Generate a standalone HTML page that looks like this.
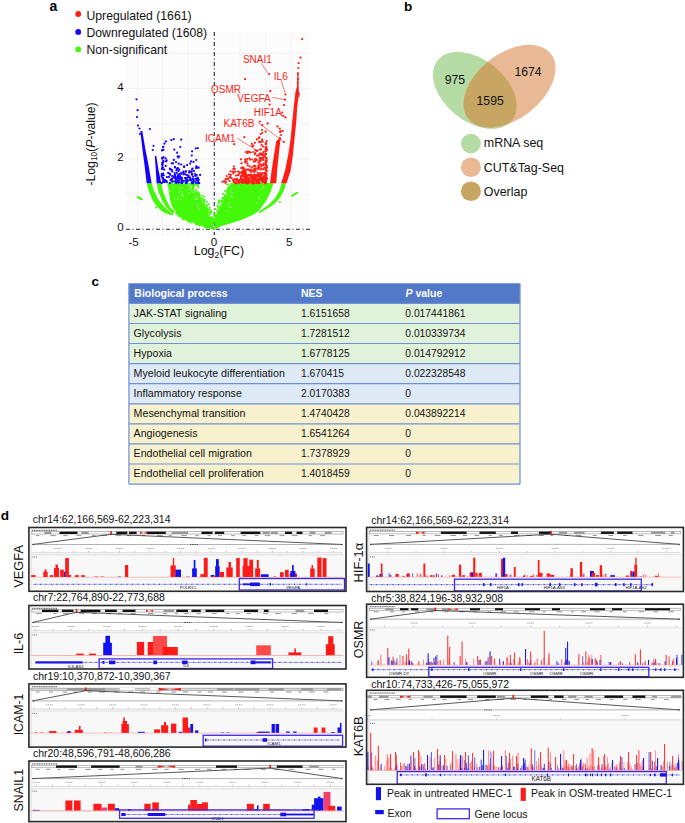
<!DOCTYPE html>
<html><head><meta charset="utf-8"><style>
html,body{margin:0;padding:0;background:#fff;width:685px;height:823px;overflow:hidden}
svg{display:block;font-family:"Liberation Sans",sans-serif}
</style></head><body>
<svg width="685" height="823" viewBox="0 0 685 823">
<rect x="125" y="32" width="185" height="204" fill="#fcfcfd"/>
<path d="M137.5 32V236M162.5 32V236M188 32V236M240 32V236M265.5 32V236M291 32V236M125 53.5H310M125 88.4H310M125 124H310M125 158.7H310M125 194H310" stroke="#f1f1f4" stroke-width="0.8" fill="none"/>
<path d="M214.3 32V235" stroke="#222" stroke-width="1.1" stroke-dasharray="4 2.5 1 2.5" fill="none"/>
<path d="M126 229.2H310" stroke="#222" stroke-width="1.1" stroke-dasharray="4 2.5 1 2.5" fill="none"/>
<path d="M146.7 183.3 L149 191.7 L152.5 199.9 L157.2 206.9 L163 212.1 L168.9 214.5 L173 215.2 L173 214 L170 212.1 L164.4 206.9 L158.6 199.9 L154.5 191.7 L151.6 183.3 Z" fill="#44f80a"/>
<path d="M156.6 183.3 L158.4 191.7 L161.9 199.9 L166 206.9 L171.2 212.5 L174 213.5 L174 211 L170 206.9 L166.5 199.9 L163 191.7 L161.3 183.3 Z" fill="#44f80a"/>
<path d="M167.7 183.3 L168.9 191.7 L170 199.9 L172.4 206.9 L175.9 212.5 L181.7 218.5 L189.9 221.5 L199.2 224.4 L207.4 227.3 L214.3 229.6 L212.6 223.8 L209 215 L204.6 205.5 L199.5 196.8 L195.5 189 L193.5 183.3 Z" fill="#44f80a"/>
<path d="M214.3 229.6 L221.7 226.1 L233.4 222.6 L245 218.5 L254.4 213.9 L259 210.5 L266 201 L270.7 191.7 L273.4 183.3 L231.5 183.3 L226.5 194.6 L222.8 201.9 L219.2 209.2 L216.3 216.5 L214.8 222.3 Z" fill="#44f80a"/>
<path d="M285.9 183.3 L284.4 189.3 L280.2 197.5 L275 203.5 L270.7 206.5 L265 210 L259 213.6 L259 211.6 L262 209.6 L268.4 205 L275.4 197.7 L280 189.3 L281.4 183.3 Z" fill="#44f80a"/>
<path d="M137.6 197L141.8 199.3M292 195.8L297 192.8" stroke="#44f80a" stroke-width="2" stroke-linecap="round"/>
<g fill="#44f80a"><circle cx="156" cy="207.4" r="1.0"/><circle cx="279.9" cy="201.9" r="1.0"/><circle cx="199.3" cy="193.5" r="1.0"/><circle cx="202.5" cy="198.8" r="1.0"/><circle cx="206.3" cy="209" r="1.0"/><circle cx="197.4" cy="184.5" r="1.0"/><circle cx="198.5" cy="194.4" r="1.0"/><circle cx="212.9" cy="223.8" r="1.0"/><circle cx="210.6" cy="217.5" r="1.0"/><circle cx="206.6" cy="209.6" r="1.0"/><circle cx="209.9" cy="209.4" r="1.0"/><circle cx="207" cy="204.9" r="1.0"/><circle cx="207.1" cy="210.9" r="1.0"/><circle cx="209.9" cy="214.3" r="1.0"/><circle cx="199.1" cy="196.1" r="1.0"/><circle cx="211" cy="218.6" r="1.0"/><circle cx="211" cy="212.8" r="1.0"/><circle cx="211.2" cy="212.6" r="1.0"/><circle cx="204.5" cy="199.8" r="1.0"/><circle cx="206.8" cy="201.8" r="1.0"/><circle cx="210.7" cy="219.2" r="1.0"/><circle cx="196" cy="189.4" r="1.0"/><circle cx="212.4" cy="222.6" r="1.0"/><circle cx="206.7" cy="209.1" r="1.0"/><circle cx="204.6" cy="204.3" r="1.0"/><circle cx="201.9" cy="198" r="1.0"/><circle cx="209.6" cy="207.4" r="1.0"/><circle cx="210.9" cy="211.3" r="1.0"/><circle cx="212.9" cy="218.3" r="1.0"/><circle cx="207.2" cy="210.9" r="1.0"/><circle cx="212.8" cy="218.4" r="1.0"/><circle cx="211.8" cy="220.2" r="1.0"/><circle cx="208" cy="212.6" r="1.0"/><circle cx="210.9" cy="217.3" r="1.0"/><circle cx="198.8" cy="195.4" r="1.0"/><circle cx="212.8" cy="218.2" r="1.0"/><circle cx="198.2" cy="187.5" r="1.0"/><circle cx="201.7" cy="200.4" r="1.0"/><circle cx="201.9" cy="195.8" r="1.0"/><circle cx="210.6" cy="218.9" r="1.0"/><circle cx="206" cy="208.6" r="1.0"/><circle cx="208.4" cy="212.7" r="1.0"/><circle cx="213" cy="219.2" r="1.0"/><circle cx="208.8" cy="204.2" r="1.0"/><circle cx="199.3" cy="196.4" r="1.0"/><circle cx="205.8" cy="208" r="1.0"/><circle cx="197.8" cy="191.9" r="1.0"/><circle cx="206.1" cy="208.4" r="1.0"/><circle cx="198.1" cy="185.7" r="1.0"/><circle cx="204" cy="196.6" r="1.0"/><circle cx="211.3" cy="219.9" r="1.0"/><circle cx="204.1" cy="202.4" r="1.0"/><circle cx="208.2" cy="209.8" r="1.0"/><circle cx="206.9" cy="206.4" r="1.0"/><circle cx="212.2" cy="221.6" r="1.0"/><circle cx="204.7" cy="201.2" r="1.0"/><circle cx="198.3" cy="193.5" r="1.0"/><circle cx="212.7" cy="223.1" r="1.0"/><circle cx="204.8" cy="205.9" r="1.0"/><circle cx="203.4" cy="200.6" r="1.0"/><circle cx="195.9" cy="184.8" r="1.0"/><circle cx="206.4" cy="209.3" r="1.0"/><circle cx="207.3" cy="209.1" r="1.0"/><circle cx="207.8" cy="211.2" r="1.0"/><circle cx="209.9" cy="212.3" r="1.0"/><circle cx="194.1" cy="184.9" r="1.0"/><circle cx="211.2" cy="211" r="1.0"/><circle cx="199.1" cy="194" r="1.0"/><circle cx="206.1" cy="207.7" r="1.0"/><circle cx="201" cy="198.6" r="1.0"/><circle cx="202.4" cy="198.8" r="1.0"/><circle cx="199.8" cy="196" r="1.0"/><circle cx="216.9" cy="214.9" r="1.0"/><circle cx="217.7" cy="206.8" r="1.0"/><circle cx="225.3" cy="196.4" r="1.0"/><circle cx="216.3" cy="216.2" r="1.0"/><circle cx="226.9" cy="191.5" r="1.0"/><circle cx="218.1" cy="211.9" r="1.0"/><circle cx="224.8" cy="196.9" r="1.0"/><circle cx="215.5" cy="217.3" r="1.0"/><circle cx="215.8" cy="218.2" r="1.0"/><circle cx="222.9" cy="197.5" r="1.0"/><circle cx="215.1" cy="219.4" r="1.0"/><circle cx="227.1" cy="193" r="1.0"/><circle cx="221" cy="205.2" r="1.0"/><circle cx="214.2" cy="216.3" r="1.0"/><circle cx="227.6" cy="191.3" r="1.0"/><circle cx="215.1" cy="216.3" r="1.0"/><circle cx="216" cy="216.3" r="1.0"/><circle cx="228.5" cy="189.2" r="1.0"/><circle cx="216.4" cy="215.8" r="1.0"/><circle cx="224" cy="197.9" r="1.0"/><circle cx="222.5" cy="200.8" r="1.0"/><circle cx="215.1" cy="220.8" r="1.0"/><circle cx="226.7" cy="184.2" r="1.0"/><circle cx="213.3" cy="219.2" r="1.0"/><circle cx="218.6" cy="201.4" r="1.0"/><circle cx="215" cy="221.1" r="1.0"/><circle cx="214.8" cy="213.8" r="1.0"/><circle cx="217.5" cy="210.5" r="1.0"/><circle cx="225.4" cy="195.6" r="1.0"/><circle cx="227.1" cy="193.1" r="1.0"/><circle cx="219.6" cy="207.5" r="1.0"/><circle cx="216.3" cy="216.4" r="1.0"/><circle cx="214.3" cy="220.1" r="1.0"/><circle cx="213.6" cy="221" r="1.0"/><circle cx="214.7" cy="220" r="1.0"/><circle cx="228.2" cy="184.5" r="1.0"/><circle cx="227.7" cy="190.9" r="1.0"/><circle cx="217.5" cy="210.5" r="1.0"/><circle cx="219.1" cy="200.6" r="1.0"/><circle cx="219" cy="208.5" r="1.0"/><circle cx="223" cy="194.1" r="1.0"/><circle cx="219.2" cy="203.1" r="1.0"/><circle cx="224.5" cy="198.1" r="1.0"/><circle cx="217.7" cy="205.4" r="1.0"/><circle cx="225" cy="190.9" r="1.0"/><circle cx="213.9" cy="220.9" r="1.0"/><circle cx="216.2" cy="216.9" r="1.0"/><circle cx="215.7" cy="209.1" r="1.0"/><circle cx="229.9" cy="186" r="1.0"/><circle cx="225" cy="194.7" r="1.0"/><circle cx="222.2" cy="200.9" r="1.0"/><circle cx="216.9" cy="215.1" r="1.0"/><circle cx="230.1" cy="186.2" r="1.0"/><circle cx="229" cy="189" r="1.0"/><circle cx="213.7" cy="223" r="1.0"/><circle cx="228.4" cy="187.4" r="1.0"/><circle cx="225" cy="196.6" r="1.0"/><circle cx="222.7" cy="198.1" r="1.0"/><circle cx="219.4" cy="207.5" r="1.0"/><circle cx="227.3" cy="191.6" r="1.0"/><circle cx="227.5" cy="189" r="1.0"/><circle cx="217.3" cy="212.6" r="1.0"/><circle cx="229.6" cy="187.2" r="1.0"/><circle cx="222.5" cy="198.9" r="1.0"/><circle cx="216.3" cy="215.3" r="1.0"/><circle cx="215.3" cy="216" r="1.0"/><circle cx="222.4" cy="201.3" r="1.0"/><circle cx="219.4" cy="203.8" r="1.0"/><circle cx="220.9" cy="200.8" r="1.0"/><circle cx="222.2" cy="202.4" r="1.0"/><circle cx="184.1" cy="184.3" r="1.0"/><circle cx="170.1" cy="183.9" r="1.0"/><circle cx="180.8" cy="184.6" r="1.0"/><circle cx="196.1" cy="183.9" r="1.0"/><circle cx="194.9" cy="184.5" r="1.0"/><circle cx="175.9" cy="184" r="1.0"/><circle cx="171.7" cy="184.5" r="1.0"/><circle cx="187.9" cy="184.6" r="1.0"/><circle cx="191.8" cy="184.3" r="1.0"/><circle cx="190" cy="184.1" r="1.0"/><circle cx="171.1" cy="184.2" r="1.0"/><circle cx="168.1" cy="183.5" r="1.0"/><circle cx="191.2" cy="183.4" r="1.0"/><circle cx="170.8" cy="183.4" r="1.0"/><circle cx="194.4" cy="183.6" r="1.0"/><circle cx="168.7" cy="184.6" r="1.0"/><circle cx="171.6" cy="184.6" r="1.0"/><circle cx="188.2" cy="184.6" r="1.0"/><circle cx="196.6" cy="184.2" r="1.0"/><circle cx="192" cy="183.4" r="1.0"/><circle cx="191" cy="184.1" r="1.0"/><circle cx="189.5" cy="183.5" r="1.0"/><circle cx="190.5" cy="184.7" r="1.0"/><circle cx="169.8" cy="183.8" r="1.0"/><circle cx="184.9" cy="184.5" r="1.0"/><circle cx="175.3" cy="183.6" r="1.0"/><circle cx="175.5" cy="184.2" r="1.0"/><circle cx="190.6" cy="183.9" r="1.0"/><circle cx="179" cy="183.9" r="1.0"/><circle cx="178.5" cy="183.9" r="1.0"/><circle cx="170.5" cy="184.1" r="1.0"/><circle cx="197.2" cy="183.9" r="1.0"/><circle cx="190.4" cy="183.5" r="1.0"/><circle cx="188.7" cy="184.4" r="1.0"/><circle cx="188.2" cy="184.1" r="1.0"/><circle cx="182.5" cy="184.3" r="1.0"/><circle cx="194.9" cy="183.5" r="1.0"/><circle cx="170.9" cy="184.4" r="1.0"/><circle cx="195.5" cy="184.1" r="1.0"/><circle cx="181.3" cy="184.4" r="1.0"/><circle cx="238.8" cy="183.7" r="1.0"/><circle cx="239.4" cy="184.2" r="1.0"/><circle cx="244.2" cy="183.6" r="1.0"/><circle cx="260" cy="184.7" r="1.0"/><circle cx="243.4" cy="184.4" r="1.0"/><circle cx="248.4" cy="184.6" r="1.0"/><circle cx="255.6" cy="183.7" r="1.0"/><circle cx="240.1" cy="183.3" r="1.0"/><circle cx="251.1" cy="183.9" r="1.0"/><circle cx="238.2" cy="183.8" r="1.0"/><circle cx="244.5" cy="184.5" r="1.0"/><circle cx="237" cy="184.8" r="1.0"/><circle cx="251.1" cy="184.2" r="1.0"/><circle cx="250.7" cy="184.6" r="1.0"/><circle cx="265.5" cy="184.1" r="1.0"/><circle cx="251.2" cy="184.4" r="1.0"/><circle cx="267" cy="183.9" r="1.0"/><circle cx="261.8" cy="184.7" r="1.0"/><circle cx="250.6" cy="183.6" r="1.0"/><circle cx="240.9" cy="184.4" r="1.0"/><circle cx="259.4" cy="184.7" r="1.0"/><circle cx="266.9" cy="183.7" r="1.0"/><circle cx="239" cy="183.7" r="1.0"/><circle cx="238.9" cy="184.4" r="1.0"/><circle cx="267.1" cy="184.6" r="1.0"/><circle cx="241.7" cy="184.6" r="1.0"/><circle cx="244.2" cy="183.9" r="1.0"/><circle cx="261.6" cy="183.4" r="1.0"/><circle cx="234.9" cy="184.6" r="1.0"/><circle cx="243.3" cy="183.8" r="1.0"/><circle cx="255.4" cy="184.3" r="1.0"/><circle cx="231.3" cy="183.8" r="1.0"/><circle cx="249.3" cy="184" r="1.0"/><circle cx="239.8" cy="184.2" r="1.0"/><circle cx="271.1" cy="183.9" r="1.0"/><circle cx="253.9" cy="183.5" r="1.0"/><circle cx="242.5" cy="184.3" r="1.0"/><circle cx="235.7" cy="184.6" r="1.0"/><circle cx="269.2" cy="183.4" r="1.0"/><circle cx="270.5" cy="183.9" r="1.0"/><circle cx="263.4" cy="184.4" r="1.0"/><circle cx="243.4" cy="184.3" r="1.0"/><circle cx="258.5" cy="184.5" r="1.0"/><circle cx="242.2" cy="184.4" r="1.0"/><circle cx="271.4" cy="184.3" r="1.0"/><circle cx="253.5" cy="183.5" r="1.0"/><circle cx="251.7" cy="183.8" r="1.0"/><circle cx="261.2" cy="184.3" r="1.0"/><circle cx="254.8" cy="183.6" r="1.0"/><circle cx="258.1" cy="184.2" r="1.0"/><circle cx="182.6" cy="219.6" r="1.0"/><circle cx="200.2" cy="224" r="1.0"/><circle cx="210.5" cy="227.6" r="1.0"/><circle cx="188.3" cy="221.3" r="1.0"/><circle cx="198.1" cy="224.2" r="1.0"/><circle cx="200" cy="224.6" r="1.0"/><circle cx="187.6" cy="220" r="1.0"/><circle cx="178.5" cy="215.7" r="1.0"/><circle cx="203.9" cy="226.2" r="1.0"/><circle cx="203.4" cy="225.6" r="1.0"/><circle cx="185.8" cy="219.8" r="1.0"/><circle cx="208.3" cy="226.7" r="1.0"/><circle cx="194.7" cy="222.5" r="1.0"/><circle cx="204.4" cy="226" r="1.0"/><circle cx="188.3" cy="220.7" r="1.0"/><circle cx="196" cy="224" r="1.0"/><circle cx="189.1" cy="221.9" r="1.0"/><circle cx="180.1" cy="216.4" r="1.0"/><circle cx="179.7" cy="215.6" r="1.0"/><circle cx="204.8" cy="226.8" r="1.0"/><circle cx="182.8" cy="218.3" r="1.0"/><circle cx="191.4" cy="222.5" r="1.0"/><circle cx="206.2" cy="227.4" r="1.0"/><circle cx="197.9" cy="223.3" r="1.0"/><circle cx="190.7" cy="221.1" r="1.0"/><circle cx="195.5" cy="223.4" r="1.0"/><circle cx="183.5" cy="218.7" r="1.0"/><circle cx="204.9" cy="225.5" r="1.0"/><circle cx="205.7" cy="227.5" r="1.0"/><circle cx="211.1" cy="228.3" r="1.0"/><circle cx="196.4" cy="223.7" r="1.0"/><circle cx="199.4" cy="225.4" r="1.0"/><circle cx="201.4" cy="224.8" r="1.0"/><circle cx="207.8" cy="227.4" r="1.0"/><circle cx="198.3" cy="224.6" r="1.0"/><circle cx="176.1" cy="213.2" r="1.0"/><circle cx="200.5" cy="224.8" r="1.0"/><circle cx="195.4" cy="223.1" r="1.0"/><circle cx="183.2" cy="219.1" r="1.0"/><circle cx="177.4" cy="214" r="1.0"/></g>
<g fill="#ffffff"><circle cx="179" cy="192.2" r="0.55"/><circle cx="177.9" cy="199.4" r="0.55"/><circle cx="182.5" cy="187.9" r="0.55"/><circle cx="181.1" cy="194.7" r="0.55"/><circle cx="170.7" cy="191" r="0.55"/><circle cx="173.3" cy="187.1" r="0.55"/><circle cx="177.5" cy="199" r="0.55"/><circle cx="174.5" cy="198.2" r="0.55"/><circle cx="179.7" cy="187.9" r="0.55"/><circle cx="182" cy="194.4" r="0.55"/><circle cx="183" cy="196" r="0.55"/><circle cx="180.4" cy="190.8" r="0.55"/><circle cx="181.3" cy="199" r="0.55"/><circle cx="182.1" cy="192.1" r="0.55"/><circle cx="194.8" cy="188.9" r="0.55"/><circle cx="189" cy="184.4" r="0.55"/><circle cx="188.7" cy="186" r="0.55"/><circle cx="189.4" cy="189" r="0.55"/><circle cx="194.3" cy="189.4" r="0.55"/><circle cx="191.8" cy="190.5" r="0.55"/><circle cx="190.7" cy="188.6" r="0.55"/><circle cx="194.8" cy="188" r="0.55"/><circle cx="189.6" cy="193" r="0.55"/><circle cx="194.5" cy="187.7" r="0.55"/><circle cx="197.5" cy="196.8" r="0.55"/><circle cx="197.6" cy="203.3" r="0.55"/><circle cx="191.5" cy="186.1" r="0.55"/><circle cx="199" cy="208.7" r="0.55"/><circle cx="196" cy="199.3" r="0.55"/><circle cx="193.3" cy="192.1" r="0.55"/><circle cx="195.3" cy="197.7" r="0.55"/><circle cx="191" cy="186.8" r="0.55"/><circle cx="195.1" cy="190.9" r="0.55"/><circle cx="190.8" cy="187.7" r="0.55"/><circle cx="197.4" cy="199" r="0.55"/><circle cx="197.5" cy="206.4" r="0.55"/><circle cx="232" cy="196.5" r="0.55"/><circle cx="239.5" cy="186.7" r="0.55"/><circle cx="231" cy="191.7" r="0.55"/><circle cx="229.6" cy="198.3" r="0.55"/><circle cx="229.9" cy="202.2" r="0.55"/><circle cx="231.4" cy="189.2" r="0.55"/><circle cx="228.5" cy="204.9" r="0.55"/><circle cx="229.6" cy="206.5" r="0.55"/><circle cx="227.1" cy="210.3" r="0.55"/><circle cx="232.2" cy="192.5" r="0.55"/><circle cx="230.7" cy="207.2" r="0.55"/><circle cx="230.1" cy="195" r="0.55"/><circle cx="259.3" cy="199" r="0.55"/><circle cx="259" cy="197.3" r="0.55"/><circle cx="263.4" cy="186.6" r="0.55"/><circle cx="262.2" cy="189.2" r="0.55"/><circle cx="263.7" cy="187" r="0.55"/><circle cx="256.9" cy="203.1" r="0.55"/></g>
<path d="M281.1 183.3 L285 170.7 L288.2 154.9 L290.6 139 L292.1 123.2 L293.7 107.4 L295.3 93.2 L297 86 L297.3 72 L298.5 72 L298.6 86 L299 93.2 L297.2 107.4 L296.1 123.2 L294.5 139 L292.9 154.9 L290.6 170.7 L286.6 183.3 Z" fill="#ff1e14"/>
<path d="M270 183.3 L271.6 170.7 L274 154.9 L276.3 141 L280.3 141 L278.7 154.9 L277.1 170.7 L276.3 183.3 Z" fill="#ff1e14"/>
<g fill="#ff1e14"><circle cx="302.1" cy="39.1" r="1.1"/><circle cx="300.5" cy="57.7" r="1.1"/><circle cx="298.6" cy="63" r="1.1"/><circle cx="298.3" cy="68" r="1.1"/><circle cx="298" cy="74" r="1.1"/><circle cx="297.9" cy="79" r="1.1"/><circle cx="297.8" cy="83" r="1.1"/><circle cx="296.8" cy="91" r="1.1"/><circle cx="299" cy="94" r="1.1"/><circle cx="298.5" cy="96" r="1.1"/><circle cx="279" cy="141.6" r="1.1"/><circle cx="280.2" cy="139.1" r="1.1"/><circle cx="278" cy="141.1" r="1.1"/><circle cx="280.1" cy="131.6" r="1.1"/><circle cx="278.1" cy="141.2" r="1.1"/><circle cx="280.7" cy="131.4" r="1.1"/><circle cx="279.8" cy="128.7" r="1.1"/><circle cx="280.2" cy="132" r="1.1"/><circle cx="278.3" cy="140.9" r="1.1"/><circle cx="279.9" cy="138.1" r="1.1"/><circle cx="279.3" cy="139.5" r="1.1"/><circle cx="278.8" cy="140.9" r="1.1"/><circle cx="265.9" cy="157.8" r="1.1"/><circle cx="266.6" cy="173.5" r="1.1"/><circle cx="265.7" cy="151.6" r="1.1"/><circle cx="266.7" cy="171" r="1.1"/><circle cx="266.4" cy="170.6" r="1.1"/><circle cx="265.9" cy="160.9" r="1.1"/><circle cx="265.9" cy="170.6" r="1.1"/><circle cx="266.7" cy="160.1" r="1.1"/><circle cx="266" cy="169.1" r="1.1"/><circle cx="266.6" cy="150.2" r="1.1"/><circle cx="267" cy="167.6" r="1.1"/><circle cx="266.6" cy="177.5" r="1.1"/><circle cx="267" cy="178.6" r="1.1"/><circle cx="266" cy="154.3" r="1.1"/><circle cx="265.9" cy="143.1" r="1.1"/><circle cx="266.2" cy="181.1" r="1.1"/><circle cx="265.9" cy="164.5" r="1.1"/><circle cx="266.2" cy="143.5" r="1.1"/><circle cx="265.5" cy="150.3" r="1.1"/><circle cx="266.3" cy="146.6" r="1.1"/><circle cx="265.8" cy="165.2" r="1.1"/><circle cx="266.8" cy="149.9" r="1.1"/><circle cx="266.2" cy="149.5" r="1.1"/><circle cx="266.7" cy="158" r="1.1"/><circle cx="266.9" cy="166" r="1.1"/><circle cx="266" cy="163" r="1.1"/><circle cx="265.5" cy="147.6" r="1.1"/><circle cx="266.1" cy="175.5" r="1.1"/><circle cx="266.6" cy="141" r="1.1"/><circle cx="266.7" cy="148.6" r="1.1"/><circle cx="258.7" cy="167.1" r="1.1"/><circle cx="255.6" cy="150.2" r="1.1"/><circle cx="248.4" cy="174.9" r="1.1"/><circle cx="254.1" cy="182" r="1.1"/><circle cx="254.5" cy="174.6" r="1.1"/><circle cx="248.6" cy="179.9" r="1.1"/><circle cx="266.3" cy="175.6" r="1.1"/><circle cx="263.4" cy="159.8" r="1.1"/><circle cx="265.9" cy="165.5" r="1.1"/><circle cx="262.1" cy="130" r="1.1"/><circle cx="254.8" cy="161.5" r="1.1"/><circle cx="265.6" cy="144.1" r="1.1"/><circle cx="244.9" cy="172.9" r="1.1"/><circle cx="259.8" cy="177.5" r="1.1"/><circle cx="261.3" cy="154.3" r="1.1"/><circle cx="245.2" cy="173" r="1.1"/><circle cx="222.6" cy="181.8" r="1.1"/><circle cx="240.7" cy="178.3" r="1.1"/><circle cx="245.8" cy="182" r="1.1"/><circle cx="240" cy="179.7" r="1.1"/><circle cx="262.5" cy="153.6" r="1.1"/><circle cx="246.1" cy="178.8" r="1.1"/><circle cx="261.8" cy="141.3" r="1.1"/><circle cx="258" cy="167.8" r="1.1"/><circle cx="244.6" cy="180.8" r="1.1"/><circle cx="245.9" cy="176.2" r="1.1"/><circle cx="264.6" cy="180.2" r="1.1"/><circle cx="258.7" cy="138" r="1.1"/><circle cx="246" cy="174.2" r="1.1"/><circle cx="253.3" cy="145.7" r="1.1"/><circle cx="251.4" cy="176.3" r="1.1"/><circle cx="263.9" cy="176.3" r="1.1"/><circle cx="233.8" cy="181.8" r="1.1"/><circle cx="265.6" cy="181.8" r="1.1"/><circle cx="254.8" cy="154.3" r="1.1"/><circle cx="258.2" cy="183.2" r="1.1"/><circle cx="264.7" cy="182" r="1.1"/><circle cx="251.7" cy="167.6" r="1.1"/><circle cx="245.3" cy="176.8" r="1.1"/><circle cx="233.8" cy="181.8" r="1.1"/><circle cx="243.1" cy="167.7" r="1.1"/><circle cx="255" cy="159" r="1.1"/><circle cx="245.3" cy="159.3" r="1.1"/><circle cx="259.2" cy="180.2" r="1.1"/><circle cx="265.6" cy="131.7" r="1.1"/><circle cx="254.3" cy="176.7" r="1.1"/><circle cx="259.6" cy="157.5" r="1.1"/><circle cx="253.4" cy="176.3" r="1.1"/><circle cx="244" cy="176.6" r="1.1"/><circle cx="250.7" cy="152.5" r="1.1"/><circle cx="249" cy="181.1" r="1.1"/><circle cx="235.6" cy="179.7" r="1.1"/><circle cx="259.1" cy="141.7" r="1.1"/><circle cx="248.2" cy="182" r="1.1"/><circle cx="251" cy="174.8" r="1.1"/><circle cx="265.5" cy="161.3" r="1.1"/><circle cx="258.6" cy="176.5" r="1.1"/><circle cx="247.5" cy="153.1" r="1.1"/><circle cx="244.8" cy="172" r="1.1"/><circle cx="251.1" cy="172.1" r="1.1"/><circle cx="260" cy="160.1" r="1.1"/><circle cx="263.7" cy="181" r="1.1"/><circle cx="239.1" cy="180.5" r="1.1"/><circle cx="238.7" cy="181" r="1.1"/><circle cx="249.6" cy="174.8" r="1.1"/><circle cx="256.8" cy="151" r="1.1"/><circle cx="258.5" cy="179.5" r="1.1"/><circle cx="255.6" cy="170.3" r="1.1"/><circle cx="261.6" cy="145.1" r="1.1"/><circle cx="266" cy="149.2" r="1.1"/><circle cx="254.4" cy="176.5" r="1.1"/><circle cx="246.6" cy="176.6" r="1.1"/><circle cx="239.6" cy="173.1" r="1.1"/><circle cx="230.2" cy="176.7" r="1.1"/><circle cx="263" cy="146.6" r="1.1"/><circle cx="239.1" cy="182.5" r="1.1"/><circle cx="242.7" cy="176.1" r="1.1"/><circle cx="264.8" cy="179.5" r="1.1"/><circle cx="244.2" cy="180.4" r="1.1"/><circle cx="265.8" cy="153.8" r="1.1"/><circle cx="262.1" cy="181.4" r="1.1"/><circle cx="255.1" cy="179.2" r="1.1"/><circle cx="265.3" cy="175.9" r="1.1"/><circle cx="260.6" cy="159.5" r="1.1"/><circle cx="238.7" cy="182.7" r="1.1"/><circle cx="259.6" cy="161" r="1.1"/><circle cx="254.9" cy="142.8" r="1.1"/><circle cx="248.5" cy="180.8" r="1.1"/><circle cx="249.4" cy="152" r="1.1"/><circle cx="256.7" cy="175.2" r="1.1"/><circle cx="266.2" cy="165.4" r="1.1"/><circle cx="252.9" cy="183.3" r="1.1"/><circle cx="252.8" cy="180.4" r="1.1"/><circle cx="251.4" cy="177.4" r="1.1"/><circle cx="241.6" cy="163.3" r="1.1"/><circle cx="231.5" cy="178.1" r="1.1"/><circle cx="248.2" cy="178.4" r="1.1"/><circle cx="255.7" cy="168.5" r="1.1"/><circle cx="254.5" cy="171.6" r="1.1"/><circle cx="247.5" cy="169.6" r="1.1"/><circle cx="260.5" cy="142.2" r="1.1"/><circle cx="251.7" cy="177.8" r="1.1"/><circle cx="234.7" cy="179.4" r="1.1"/><circle cx="251.8" cy="143.9" r="1.1"/><circle cx="253.3" cy="170.5" r="1.1"/><circle cx="242.2" cy="171.7" r="1.1"/><circle cx="234.9" cy="169" r="1.1"/><circle cx="242.5" cy="179.5" r="1.1"/><circle cx="242.7" cy="180.4" r="1.1"/><circle cx="248.8" cy="179.3" r="1.1"/><circle cx="246.7" cy="177.6" r="1.1"/><circle cx="233.4" cy="180.8" r="1.1"/><circle cx="261.9" cy="181" r="1.1"/><circle cx="264.1" cy="176.9" r="1.1"/><circle cx="262.2" cy="173.1" r="1.1"/><circle cx="263.2" cy="178" r="1.1"/><circle cx="264.2" cy="176.3" r="1.1"/><circle cx="265.4" cy="177.1" r="1.1"/><circle cx="261.4" cy="178.4" r="1.1"/><circle cx="263.7" cy="178.5" r="1.1"/><circle cx="236.2" cy="179.3" r="1.1"/><circle cx="245.7" cy="172.2" r="1.1"/><circle cx="263.5" cy="157.8" r="1.1"/><circle cx="262.2" cy="139.4" r="1.1"/><circle cx="226.3" cy="178.6" r="1.1"/><circle cx="262.2" cy="177.8" r="1.1"/><circle cx="264" cy="179.2" r="1.1"/><circle cx="235.2" cy="171.6" r="1.1"/><circle cx="261.9" cy="174.3" r="1.1"/><circle cx="250.8" cy="169.9" r="1.1"/><circle cx="226.7" cy="176" r="1.1"/><circle cx="260.7" cy="175.9" r="1.1"/><circle cx="245.7" cy="176.2" r="1.1"/><circle cx="259.5" cy="175.2" r="1.1"/><circle cx="242.5" cy="167.4" r="1.1"/><circle cx="265.7" cy="181" r="1.1"/><circle cx="265.6" cy="182.3" r="1.1"/><circle cx="266.5" cy="161.9" r="1.1"/><circle cx="233.8" cy="172" r="1.1"/><circle cx="230.6" cy="171.3" r="1.1"/><circle cx="230.9" cy="174.8" r="1.1"/><circle cx="259.5" cy="173.2" r="1.1"/><circle cx="257.4" cy="150.7" r="1.1"/><circle cx="252.8" cy="177.4" r="1.1"/><circle cx="255.9" cy="159" r="1.1"/><circle cx="254.2" cy="169.1" r="1.1"/><circle cx="264.6" cy="172.9" r="1.1"/><circle cx="248.4" cy="169.6" r="1.1"/><circle cx="241.2" cy="168" r="1.1"/><circle cx="247.2" cy="183.3" r="1.1"/><circle cx="241.7" cy="172.9" r="1.1"/><circle cx="244.6" cy="177.7" r="1.1"/><circle cx="236.8" cy="183.2" r="1.1"/><circle cx="260.2" cy="153.7" r="1.1"/><circle cx="259.3" cy="137.4" r="1.1"/><circle cx="233.1" cy="179.6" r="1.1"/><circle cx="258.1" cy="175.6" r="1.1"/><circle cx="261.2" cy="180.1" r="1.1"/><circle cx="255.6" cy="175.3" r="1.1"/><circle cx="247.1" cy="159" r="1.1"/><circle cx="251.1" cy="176.2" r="1.1"/><circle cx="261.3" cy="158.2" r="1.1"/><circle cx="258.4" cy="165.5" r="1.1"/><circle cx="253.8" cy="171.7" r="1.1"/><circle cx="264" cy="163.7" r="1.1"/><circle cx="259.8" cy="182.8" r="1.1"/><circle cx="249.4" cy="170.6" r="1.1"/><circle cx="249.2" cy="181.4" r="1.1"/><circle cx="257.6" cy="172.6" r="1.1"/><circle cx="238.5" cy="174.7" r="1.1"/><circle cx="260" cy="158.3" r="1.1"/><circle cx="243.2" cy="182.5" r="1.1"/><circle cx="261.4" cy="166" r="1.1"/><circle cx="258.6" cy="168.7" r="1.1"/><circle cx="265.2" cy="183.3" r="1.1"/><circle cx="239.9" cy="180.3" r="1.1"/><circle cx="253" cy="170.6" r="1.1"/><circle cx="258.9" cy="179.6" r="1.1"/><circle cx="243.8" cy="181.1" r="1.1"/><circle cx="249.3" cy="158.3" r="1.1"/><circle cx="261" cy="149.3" r="1.1"/><circle cx="246.4" cy="175.7" r="1.1"/><circle cx="264.6" cy="177.5" r="1.1"/><circle cx="239.6" cy="172.3" r="1.1"/><circle cx="242.4" cy="168.1" r="1.1"/><circle cx="235.4" cy="182.5" r="1.1"/><circle cx="253.5" cy="175.7" r="1.1"/><circle cx="254.7" cy="177.2" r="1.1"/><circle cx="245.9" cy="169.9" r="1.1"/><circle cx="232.7" cy="171.5" r="1.1"/><circle cx="257.2" cy="155.6" r="1.1"/><circle cx="265.4" cy="174.6" r="1.1"/><circle cx="247.9" cy="176.1" r="1.1"/><circle cx="245.3" cy="162.4" r="1.1"/><circle cx="248.8" cy="179" r="1.1"/><circle cx="253.4" cy="152" r="1.1"/><circle cx="244.7" cy="170.7" r="1.1"/><circle cx="263.3" cy="155.5" r="1.1"/><circle cx="239.7" cy="182" r="1.1"/><circle cx="252.9" cy="180.3" r="1.1"/><circle cx="264.2" cy="154.4" r="1.1"/><circle cx="250.5" cy="170.2" r="1.1"/><circle cx="265.5" cy="182.6" r="1.1"/><circle cx="265.9" cy="181.7" r="1.1"/><circle cx="261.8" cy="180.7" r="1.1"/><circle cx="225.3" cy="182.7" r="1.1"/><circle cx="260.1" cy="178.4" r="1.1"/><circle cx="264.1" cy="175.7" r="1.1"/><circle cx="260.2" cy="178.5" r="1.1"/><circle cx="258.4" cy="175.4" r="1.1"/><circle cx="241.1" cy="178.1" r="1.1"/><circle cx="244.7" cy="174.1" r="1.1"/><circle cx="261.8" cy="168.6" r="1.1"/><circle cx="262.5" cy="179.3" r="1.1"/><circle cx="257" cy="160" r="1.1"/><circle cx="259.8" cy="174.5" r="1.1"/><circle cx="256.9" cy="139.4" r="1.1"/><circle cx="259.9" cy="149.5" r="1.1"/><circle cx="243" cy="172.6" r="1.1"/><circle cx="244.2" cy="168.5" r="1.1"/><circle cx="229.1" cy="177.9" r="1.1"/><circle cx="245.5" cy="180" r="1.1"/><circle cx="225.9" cy="182.1" r="1.1"/><circle cx="241" cy="159.3" r="1.1"/><circle cx="234" cy="166.6" r="1.1"/><circle cx="252.9" cy="182.4" r="1.1"/><circle cx="238.1" cy="175.2" r="1.1"/><circle cx="237" cy="180.5" r="1.1"/><circle cx="265" cy="156.3" r="1.1"/><circle cx="235.9" cy="175.6" r="1.1"/><circle cx="236.8" cy="180.6" r="1.1"/><circle cx="255.1" cy="168.5" r="1.1"/><circle cx="255.4" cy="176.4" r="1.1"/><circle cx="240.9" cy="176.2" r="1.1"/><circle cx="241.4" cy="182.2" r="1.1"/><circle cx="262.3" cy="132.8" r="1.1"/><circle cx="238" cy="171.6" r="1.1"/><circle cx="258.6" cy="174.7" r="1.1"/><circle cx="243.9" cy="180.7" r="1.1"/><circle cx="258.5" cy="176" r="1.1"/><circle cx="237" cy="178.9" r="1.1"/><circle cx="244" cy="171.3" r="1.1"/><circle cx="263.7" cy="180.7" r="1.1"/><circle cx="262.3" cy="155.6" r="1.1"/><circle cx="265.5" cy="168.1" r="1.1"/><circle cx="259.6" cy="163.3" r="1.1"/><circle cx="249.5" cy="178.6" r="1.1"/><circle cx="248.6" cy="174.9" r="1.1"/><circle cx="242.2" cy="182.9" r="1.1"/><circle cx="258.6" cy="181.1" r="1.1"/><circle cx="259.6" cy="175.3" r="1.1"/><circle cx="247.7" cy="165.5" r="1.1"/><circle cx="255.1" cy="175.8" r="1.1"/><circle cx="263.9" cy="178.3" r="1.1"/><circle cx="263.3" cy="177.7" r="1.1"/><circle cx="252.9" cy="178" r="1.1"/><circle cx="258.3" cy="162.4" r="1.1"/><circle cx="262.6" cy="173.2" r="1.1"/><circle cx="235.2" cy="183.2" r="1.1"/><circle cx="247.8" cy="178.8" r="1.1"/><circle cx="224.2" cy="181" r="1.1"/><circle cx="263.3" cy="165.1" r="1.1"/><circle cx="254.9" cy="177.6" r="1.1"/><circle cx="250.1" cy="159.6" r="1.1"/><circle cx="260.6" cy="134" r="1.1"/><circle cx="260.5" cy="160.9" r="1.1"/><circle cx="266.5" cy="178.9" r="1.1"/><circle cx="259.7" cy="165.2" r="1.1"/><circle cx="260.9" cy="174.3" r="1.1"/><circle cx="257.9" cy="175.4" r="1.1"/><circle cx="238.6" cy="180.7" r="1.1"/><circle cx="254" cy="161.4" r="1.1"/><circle cx="254.3" cy="180" r="1.1"/><circle cx="255.2" cy="170.7" r="1.1"/><circle cx="249.1" cy="178.3" r="1.1"/><circle cx="245.8" cy="152.1" r="1.1"/><circle cx="256" cy="178.1" r="1.1"/><circle cx="257.6" cy="168.7" r="1.1"/><circle cx="264.4" cy="167.5" r="1.1"/><circle cx="262.8" cy="164.8" r="1.1"/><circle cx="262.7" cy="141.5" r="1.1"/><circle cx="258.6" cy="155.3" r="1.1"/><circle cx="260.3" cy="153.7" r="1.1"/><circle cx="260.4" cy="169.6" r="1.1"/><circle cx="252.2" cy="159.5" r="1.1"/><circle cx="244.1" cy="182.2" r="1.1"/><circle cx="225.6" cy="179.3" r="1.1"/><circle cx="266.2" cy="160.3" r="1.1"/><circle cx="259.9" cy="175.4" r="1.1"/><circle cx="233.3" cy="168.8" r="1.1"/><circle cx="261.6" cy="177.8" r="1.1"/><circle cx="252.6" cy="179" r="1.1"/><circle cx="249.6" cy="178.7" r="1.1"/><circle cx="265.1" cy="178.7" r="1.1"/><circle cx="264.2" cy="181.7" r="1.1"/><circle cx="244" cy="175.9" r="1.1"/><circle cx="252.3" cy="146.2" r="1.1"/><circle cx="227.8" cy="179.3" r="1.1"/><circle cx="259.6" cy="154.3" r="1.1"/><circle cx="259.3" cy="176" r="1.1"/><circle cx="229" cy="174.3" r="1.1"/><circle cx="233.3" cy="173.3" r="1.1"/><circle cx="241.7" cy="172.3" r="1.1"/><circle cx="255.4" cy="153.2" r="1.1"/><circle cx="255.6" cy="160.6" r="1.1"/><circle cx="242.5" cy="174.4" r="1.1"/><circle cx="260.1" cy="178.8" r="1.1"/><circle cx="254" cy="175.3" r="1.1"/><circle cx="255.5" cy="166.1" r="1.1"/><circle cx="256.6" cy="180.8" r="1.1"/><circle cx="229.6" cy="181" r="1.1"/><circle cx="261.8" cy="164.7" r="1.1"/><circle cx="253.3" cy="166.3" r="1.1"/><circle cx="261.8" cy="158.1" r="1.1"/><circle cx="254.9" cy="165.9" r="1.1"/><circle cx="255.2" cy="177.5" r="1.1"/><circle cx="265.8" cy="178.6" r="1.1"/><circle cx="252.9" cy="177.4" r="1.1"/><circle cx="246.8" cy="161.4" r="1.1"/><circle cx="254.3" cy="181.5" r="1.1"/><circle cx="259.6" cy="167.6" r="1.1"/><circle cx="263.6" cy="151.9" r="1.1"/><circle cx="248.1" cy="182.1" r="1.1"/><circle cx="253.8" cy="178.7" r="1.1"/><circle cx="248.9" cy="151.8" r="1.1"/><circle cx="243.2" cy="179.5" r="1.1"/><circle cx="264.4" cy="178.7" r="1.1"/><circle cx="263.4" cy="169.3" r="1.1"/><circle cx="262.8" cy="159.6" r="1.1"/><circle cx="250.9" cy="180.9" r="1.1"/><circle cx="256.2" cy="182.8" r="1.1"/><circle cx="252.3" cy="175.5" r="1.1"/><circle cx="252.9" cy="176.8" r="1.1"/><circle cx="247.6" cy="151.6" r="1.1"/><circle cx="258" cy="179.2" r="1.1"/><circle cx="242.3" cy="181.1" r="1.1"/><circle cx="242" cy="180.4" r="1.1"/><circle cx="246.2" cy="181.9" r="1.1"/><circle cx="249.3" cy="182.5" r="1.1"/><circle cx="248.8" cy="179.8" r="1.1"/><circle cx="245.2" cy="179.2" r="1.1"/><circle cx="264.8" cy="176.9" r="1.1"/><circle cx="264.9" cy="182.7" r="1.1"/><circle cx="257.9" cy="181.9" r="1.1"/><circle cx="264.4" cy="179.9" r="1.1"/><circle cx="259.3" cy="175.8" r="1.1"/><circle cx="245.2" cy="182.8" r="1.1"/><circle cx="261.5" cy="174.8" r="1.1"/><circle cx="252.4" cy="183.2" r="1.1"/><circle cx="242.6" cy="175.2" r="1.1"/><circle cx="258.7" cy="181" r="1.1"/><circle cx="258.3" cy="175.1" r="1.1"/><circle cx="242.2" cy="176.5" r="1.1"/><circle cx="265.5" cy="173.1" r="1.1"/><circle cx="263.2" cy="180.4" r="1.1"/><circle cx="256.6" cy="182.7" r="1.1"/><circle cx="261" cy="177.9" r="1.1"/><circle cx="251.7" cy="183" r="1.1"/><circle cx="246.3" cy="180.7" r="1.1"/><circle cx="264.1" cy="180.1" r="1.1"/><circle cx="262.8" cy="182.3" r="1.1"/><circle cx="248.1" cy="182" r="1.1"/><circle cx="248.9" cy="175.4" r="1.1"/><circle cx="250.8" cy="181.4" r="1.1"/><circle cx="258.3" cy="180.3" r="1.1"/><circle cx="263.1" cy="177.4" r="1.1"/><circle cx="262" cy="180.5" r="1.1"/><circle cx="251.5" cy="180.3" r="1.1"/><circle cx="265.7" cy="168.9" r="1.1"/><circle cx="255.6" cy="179.9" r="1.1"/><circle cx="243.7" cy="173.5" r="1.1"/><circle cx="256.6" cy="180.6" r="1.1"/><circle cx="246" cy="180.1" r="1.1"/><circle cx="259" cy="181.7" r="1.1"/><circle cx="248.4" cy="179.7" r="1.1"/><circle cx="253.9" cy="183.3" r="1.1"/><circle cx="243.5" cy="181" r="1.1"/><circle cx="259" cy="180.9" r="1.1"/><circle cx="242.4" cy="181.9" r="1.1"/><circle cx="246.7" cy="176.1" r="1.1"/><circle cx="247.5" cy="163.5" r="1.1"/><circle cx="248.9" cy="182.3" r="1.1"/><circle cx="242.5" cy="179.9" r="1.1"/><circle cx="254.4" cy="175.7" r="1.1"/><circle cx="258" cy="179.4" r="1.1"/><circle cx="243.3" cy="170.2" r="1.1"/><circle cx="247.9" cy="182" r="1.1"/><circle cx="246.2" cy="178.9" r="1.1"/><circle cx="257.7" cy="181.4" r="1.1"/><circle cx="248.2" cy="183.2" r="1.1"/><circle cx="256.3" cy="177.1" r="1.1"/><circle cx="244.9" cy="181.9" r="1.1"/><circle cx="260" cy="177.1" r="1.1"/><circle cx="245.3" cy="161.2" r="1.1"/><circle cx="259.2" cy="177" r="1.1"/><circle cx="249.7" cy="166.3" r="1.1"/><circle cx="252.6" cy="178.2" r="1.1"/><circle cx="265.6" cy="174.3" r="1.1"/><circle cx="246.2" cy="182.6" r="1.1"/><circle cx="247" cy="182.7" r="1.1"/><circle cx="245.1" cy="79.2" r="1.1"/><circle cx="270.2" cy="91.2" r="1.1"/><circle cx="269.7" cy="104.7" r="1.1"/><circle cx="284" cy="105.2" r="1.1"/><circle cx="285.5" cy="94.5" r="1.1"/><circle cx="285" cy="99.6" r="1.1"/><circle cx="269.2" cy="74.1" r="1.1"/><circle cx="260" cy="121.5" r="1.1"/><circle cx="267.7" cy="123.4" r="1.1"/><circle cx="262.2" cy="125.2" r="1.1"/><circle cx="244.3" cy="137.2" r="1.1"/><circle cx="234.1" cy="144.2" r="1.1"/><circle cx="283.5" cy="116" r="1.1"/><circle cx="285.5" cy="117.4" r="1.1"/><circle cx="284" cy="142" r="1.1"/><circle cx="282.3" cy="112.5" r="1.1"/><circle cx="277.4" cy="126.4" r="1.1"/><circle cx="282.7" cy="131" r="1.1"/><circle cx="281" cy="135" r="1.1"/></g>
<path d="M140.3 131 L142.5 150 L144.5 165 L146.7 183.3 L151.6 183.3 L148.5 165 L145.5 150 L142.3 131 Z" fill="#1400ff"/>
<path d="M154.8 156 L155.8 170 L156.6 183.3 L161.3 183.3 L158.5 170 L156.3 156 Z" fill="#1400ff"/>
<g fill="#1400ff"><circle cx="136.5" cy="99.3" r="1.1"/><circle cx="137.6" cy="110.2" r="1.1"/><circle cx="137" cy="117.1" r="1.1"/><circle cx="138" cy="125.5" r="1.1"/><circle cx="139.5" cy="128.5" r="1.1"/><circle cx="140" cy="134" r="1.1"/><circle cx="149.9" cy="129" r="1.1"/><circle cx="153.5" cy="145.8" r="1.1"/><circle cx="152.8" cy="150" r="1.1"/><circle cx="196" cy="175.5" r="1.1"/><circle cx="175.6" cy="176.4" r="1.1"/><circle cx="175.1" cy="174.8" r="1.1"/><circle cx="193.6" cy="179.2" r="1.1"/><circle cx="193.3" cy="182.4" r="1.1"/><circle cx="177.8" cy="177.4" r="1.1"/><circle cx="197.4" cy="167.5" r="1.1"/><circle cx="175.4" cy="177.4" r="1.1"/><circle cx="187.7" cy="180.2" r="1.1"/><circle cx="178.8" cy="181.1" r="1.1"/><circle cx="177.7" cy="180.7" r="1.1"/><circle cx="192.1" cy="169.7" r="1.1"/><circle cx="162" cy="168.9" r="1.1"/><circle cx="181.5" cy="179" r="1.1"/><circle cx="168.2" cy="172.9" r="1.1"/><circle cx="190.5" cy="178.6" r="1.1"/><circle cx="182.1" cy="182.4" r="1.1"/><circle cx="186.8" cy="182.8" r="1.1"/><circle cx="178.7" cy="163.7" r="1.1"/><circle cx="180.1" cy="176.2" r="1.1"/><circle cx="166.9" cy="177.1" r="1.1"/><circle cx="183.4" cy="171.5" r="1.1"/><circle cx="179.7" cy="177.1" r="1.1"/><circle cx="192.1" cy="151.3" r="1.1"/><circle cx="177.2" cy="178.7" r="1.1"/><circle cx="175.5" cy="180.9" r="1.1"/><circle cx="193.4" cy="179.7" r="1.1"/><circle cx="199.2" cy="183.2" r="1.1"/><circle cx="181.2" cy="139.6" r="1.1"/><circle cx="170.6" cy="179.9" r="1.1"/><circle cx="166.7" cy="160.3" r="1.1"/><circle cx="190" cy="180.1" r="1.1"/><circle cx="179.3" cy="156.5" r="1.1"/><circle cx="178.3" cy="157.5" r="1.1"/><circle cx="173.9" cy="159.9" r="1.1"/><circle cx="196.7" cy="175" r="1.1"/><circle cx="181.8" cy="180.3" r="1.1"/><circle cx="191.3" cy="180.5" r="1.1"/><circle cx="189.4" cy="177.7" r="1.1"/><circle cx="193.2" cy="179.5" r="1.1"/><circle cx="165.6" cy="158.4" r="1.1"/><circle cx="163.5" cy="175" r="1.1"/><circle cx="177.8" cy="168.4" r="1.1"/><circle cx="177.7" cy="156.4" r="1.1"/><circle cx="165.9" cy="141.4" r="1.1"/><circle cx="184.1" cy="166.3" r="1.1"/><circle cx="185.7" cy="171.6" r="1.1"/><circle cx="197.1" cy="179.9" r="1.1"/><circle cx="177.6" cy="168.1" r="1.1"/><circle cx="179.6" cy="174" r="1.1"/><circle cx="187.8" cy="180.9" r="1.1"/><circle cx="194" cy="171.1" r="1.1"/><circle cx="171.8" cy="169.8" r="1.1"/><circle cx="185.9" cy="178.9" r="1.1"/><circle cx="176.1" cy="178.5" r="1.1"/><circle cx="190.1" cy="163.6" r="1.1"/><circle cx="178.2" cy="182.6" r="1.1"/><circle cx="181.1" cy="164.5" r="1.1"/><circle cx="193.5" cy="161.9" r="1.1"/><circle cx="193" cy="176.5" r="1.1"/><circle cx="169.6" cy="173.5" r="1.1"/><circle cx="195" cy="181.3" r="1.1"/><circle cx="173.1" cy="163.3" r="1.1"/><circle cx="178.4" cy="175.5" r="1.1"/><circle cx="191.8" cy="174.4" r="1.1"/><circle cx="182" cy="182.3" r="1.1"/><circle cx="174.1" cy="177.7" r="1.1"/><circle cx="181.2" cy="173.2" r="1.1"/><circle cx="183.5" cy="174.3" r="1.1"/><circle cx="174.9" cy="167.2" r="1.1"/><circle cx="164.8" cy="179.9" r="1.1"/><circle cx="189.1" cy="172.5" r="1.1"/><circle cx="176.4" cy="170.6" r="1.1"/><circle cx="165.8" cy="165.9" r="1.1"/><circle cx="174.8" cy="177.7" r="1.1"/><circle cx="196.2" cy="182.9" r="1.1"/><circle cx="176.9" cy="173" r="1.1"/><circle cx="178.2" cy="174.9" r="1.1"/><circle cx="170.1" cy="174.8" r="1.1"/><circle cx="200.1" cy="174.9" r="1.1"/><circle cx="189.3" cy="171.1" r="1.1"/><circle cx="198.7" cy="167.7" r="1.1"/><circle cx="192.4" cy="168.6" r="1.1"/><circle cx="176.8" cy="169.1" r="1.1"/><circle cx="174.8" cy="175.6" r="1.1"/><circle cx="171.3" cy="140" r="1.1"/><circle cx="192.9" cy="183.2" r="1.1"/><circle cx="181.4" cy="179.5" r="1.1"/><circle cx="198.8" cy="179.8" r="1.1"/><circle cx="197.4" cy="167.5" r="1.1"/><circle cx="188.1" cy="177" r="1.1"/><circle cx="171.9" cy="178.7" r="1.1"/><circle cx="185.2" cy="178" r="1.1"/><circle cx="166.9" cy="182" r="1.1"/><circle cx="193.2" cy="178.5" r="1.1"/><circle cx="172.1" cy="176" r="1.1"/><circle cx="171.8" cy="179.5" r="1.1"/><circle cx="161.8" cy="173.9" r="1.1"/><circle cx="187.1" cy="165.1" r="1.1"/><circle cx="172.3" cy="178.8" r="1.1"/><circle cx="162.9" cy="178.4" r="1.1"/><circle cx="180.3" cy="182.5" r="1.1"/><circle cx="176" cy="162" r="1.1"/><circle cx="170.5" cy="169.4" r="1.1"/><circle cx="175" cy="167.4" r="1.1"/><circle cx="171.8" cy="181.6" r="1.1"/><circle cx="196.3" cy="166.3" r="1.1"/><circle cx="196.9" cy="179.5" r="1.1"/><circle cx="196.4" cy="179.9" r="1.1"/><circle cx="162.5" cy="175.2" r="1.1"/><circle cx="198.4" cy="183.2" r="1.1"/><circle cx="195.1" cy="174.1" r="1.1"/><circle cx="182" cy="180.8" r="1.1"/><circle cx="181.5" cy="177.5" r="1.1"/><circle cx="164.4" cy="143.7" r="1.1"/><circle cx="180" cy="179" r="1.1"/><circle cx="191.8" cy="155.5" r="1.1"/><circle cx="198" cy="178.7" r="1.1"/><circle cx="174.3" cy="149.6" r="1.1"/><circle cx="169.9" cy="168.7" r="1.1"/><circle cx="179" cy="180.6" r="1.1"/><circle cx="172.4" cy="181.4" r="1.1"/><circle cx="196" cy="178.5" r="1.1"/><circle cx="198.3" cy="182.5" r="1.1"/><circle cx="192.3" cy="183.2" r="1.1"/><circle cx="195.9" cy="168.1" r="1.1"/><circle cx="187" cy="175.1" r="1.1"/><circle cx="168.9" cy="176.9" r="1.1"/><circle cx="177.1" cy="152.7" r="1.1"/><circle cx="178.5" cy="178.3" r="1.1"/><circle cx="166.3" cy="180.8" r="1.1"/><circle cx="185.9" cy="171.4" r="1.1"/><circle cx="180.3" cy="147" r="1.1"/><circle cx="177.9" cy="176.7" r="1.1"/><circle cx="178.2" cy="181.8" r="1.1"/><circle cx="179.3" cy="169.6" r="1.1"/><circle cx="164.2" cy="169.6" r="1.1"/><circle cx="198" cy="181.4" r="1.1"/><circle cx="164.6" cy="182.1" r="1.1"/><circle cx="161.5" cy="176.1" r="1.1"/><circle cx="190.7" cy="172" r="1.1"/><circle cx="197.7" cy="148.2" r="1.1"/><circle cx="191.6" cy="171.5" r="1.1"/><circle cx="192" cy="182.9" r="1.1"/><circle cx="187" cy="178" r="1.1"/><circle cx="175.9" cy="179.6" r="1.1"/><circle cx="195.7" cy="148.5" r="1.1"/><circle cx="196.3" cy="160" r="1.1"/><circle cx="182.6" cy="182.3" r="1.1"/><circle cx="178.5" cy="171.1" r="1.1"/><circle cx="173.7" cy="176.7" r="1.1"/><circle cx="165.9" cy="181.4" r="1.1"/><circle cx="173.7" cy="139.2" r="1.1"/><circle cx="192.7" cy="182.7" r="1.1"/><circle cx="162.3" cy="165" r="1.1"/><circle cx="192.1" cy="174.6" r="1.1"/><circle cx="181.8" cy="183" r="1.1"/><circle cx="190.1" cy="177.5" r="1.1"/><circle cx="192.5" cy="181.5" r="1.1"/><circle cx="185.5" cy="174.5" r="1.1"/><circle cx="169.9" cy="183.1" r="1.1"/><circle cx="183.8" cy="180.8" r="1.1"/><circle cx="161.7" cy="183.2" r="1.1"/><circle cx="174.3" cy="181.6" r="1.1"/><circle cx="185.7" cy="181.9" r="1.1"/><circle cx="191.5" cy="180" r="1.1"/><circle cx="172.3" cy="171.4" r="1.1"/><circle cx="171.7" cy="163.3" r="1.1"/><circle cx="186.1" cy="180.9" r="1.1"/><circle cx="177.8" cy="177.2" r="1.1"/><circle cx="181.9" cy="177.8" r="1.1"/><circle cx="191" cy="161.4" r="1.1"/><circle cx="181.2" cy="173.8" r="1.1"/><circle cx="184.1" cy="167.1" r="1.1"/><circle cx="185.4" cy="178.1" r="1.1"/><circle cx="164.8" cy="180.7" r="1.1"/><circle cx="183.3" cy="172.4" r="1.1"/><circle cx="188.5" cy="175.7" r="1.1"/><circle cx="174.8" cy="173" r="1.1"/><circle cx="195.3" cy="175.8" r="1.1"/><circle cx="191.9" cy="173.7" r="1.1"/><circle cx="185.9" cy="182.8" r="1.1"/><circle cx="197.6" cy="177.7" r="1.1"/><circle cx="163.4" cy="180.4" r="1.1"/><circle cx="176.4" cy="179.2" r="1.1"/><circle cx="179.6" cy="178" r="1.1"/><circle cx="166.1" cy="161.4" r="1.1"/><circle cx="176.2" cy="183.1" r="1.1"/><circle cx="176.4" cy="182.1" r="1.1"/><circle cx="184.1" cy="173.7" r="1.1"/><circle cx="163.3" cy="160.8" r="1.1"/><circle cx="163.1" cy="146.8" r="1.1"/><circle cx="162.3" cy="162.7" r="1.1"/><circle cx="163.5" cy="149.8" r="1.1"/><circle cx="162.8" cy="167.4" r="1.1"/><circle cx="163.4" cy="161.5" r="1.1"/><circle cx="162.4" cy="167.2" r="1.1"/><circle cx="163.4" cy="180.3" r="1.1"/><circle cx="163.1" cy="173.6" r="1.1"/><circle cx="162.5" cy="168.9" r="1.1"/><circle cx="163.1" cy="182" r="1.1"/><circle cx="163.3" cy="147" r="1.1"/><circle cx="162.1" cy="158.4" r="1.1"/><circle cx="162.4" cy="177.9" r="1.1"/><circle cx="162.2" cy="158.1" r="1.1"/><circle cx="162.9" cy="162.5" r="1.1"/><circle cx="163.5" cy="175.3" r="1.1"/><circle cx="163.1" cy="178.1" r="1.1"/><circle cx="163.5" cy="157.2" r="1.1"/><circle cx="162.5" cy="149.8" r="1.1"/><circle cx="162.6" cy="164.3" r="1.1"/><circle cx="162.2" cy="164.4" r="1.1"/><circle cx="162" cy="150.5" r="1.1"/><circle cx="162.4" cy="158.5" r="1.1"/><circle cx="162.4" cy="175.1" r="1.1"/></g>
<g font-size="10" fill="#ff1e14"><text x="242.9" y="62.8">SNAI1</text><text x="273.8" y="79.9">IL6</text><text x="211" y="93.4">OSMR</text><text x="237.3" y="101.5">VEGFA</text><text x="253.7" y="116.4">HIF1A</text><text x="223.5" y="126.6">KAT6B</text><text x="204.9" y="142">ICAM1</text></g>
<path d="M261.4 63.4L268 73M281.1 80.4L285.3 93.5M272.4 97.4L284.8 99.6M281 114.5L284 116.5M257.8 122.3L284 142M237.3 138.3L256 150" stroke="#ff1e14" stroke-width="0.6" fill="none"/>
<g font-size="11.6" fill="#111">
<text x="117.2" y="90.6">4</text><text x="117.2" y="161.4">2</text><text x="117.2" y="230.8">0</text>
<text x="128.4" y="245.6">-5</text><text x="210.8" y="245.6">0</text><text x="285.9" y="245.6">5</text>
</g>
<text x="193.8" y="255.4" font-size="12.4" fill="#111">Log<tspan font-size="8.6" dy="2.6">2</tspan><tspan dy="-2.6">(FC)</tspan></text>
<text transform="translate(94.6 143.9) rotate(-90)" text-anchor="middle" font-size="12.2" fill="#111">-Log<tspan font-size="8.4" dy="2.5">10</tspan><tspan dy="-2.5">(</tspan><tspan font-style="italic">P</tspan>-value)</text>
<circle cx="78.2" cy="14" r="2.9" fill="#ff1e14"/><circle cx="78.2" cy="31.9" r="2.9" fill="#1400ff"/><circle cx="78.2" cy="49.4" r="2.9" fill="#44f80a"/>
<g font-size="12.2" fill="#111"><text x="86.5" y="19.6">Upregulated (1661)</text><text x="86.5" y="37.4">Downregulated (1608)</text><text x="86.5" y="54.2">Non-significant</text></g>
<text x="49.5" y="11.1" font-size="14" font-weight="bold">a</text>
<text x="404" y="10.8" font-size="13.6" font-weight="bold">b</text>
<defs><clipPath id="co"><ellipse cx="509.5" cy="86.2" rx="52.5" ry="32.7" transform="rotate(-38.1 509.5 86.2)"/></clipPath></defs>
<ellipse cx="474.8" cy="90.4" rx="47.8" ry="30.9" transform="rotate(39.1 474.8 90.4)" fill="#b6dca5"/>
<ellipse cx="509.5" cy="86.2" rx="52.5" ry="32.7" transform="rotate(-38.1 509.5 86.2)" fill="#e8b994"/>
<g clip-path="url(#co)"><ellipse cx="474.8" cy="90.4" rx="47.8" ry="30.9" transform="rotate(39.1 474.8 90.4)" fill="#c7a664"/></g>
<g font-size="12.2" fill="#111"><text x="444.7" y="83.8">975</text><text x="476.6" y="105">1595</text><text x="514.4" y="76">1674</text></g>
<ellipse cx="470.9" cy="143.6" rx="10" ry="9.8" fill="#b6dca5"/><ellipse cx="470.9" cy="167.3" rx="10" ry="9.8" fill="#e8b994"/><ellipse cx="470.9" cy="191.2" rx="10" ry="9.8" fill="#c7a664"/>
<g font-size="12.45" fill="#111"><text x="483.8" y="147.4">mRNA seq</text><text x="483.8" y="171.6">CUT&amp;Tag-Seq</text><text x="483.8" y="196.2">Overlap</text></g>
<text x="91.4" y="285.8" font-size="13.6" font-weight="bold">c</text>
<rect x="128.9" y="283.3" width="391.1" height="20.1" fill="#5278c8"/>
<rect x="128.9" y="303.4" width="391.1" height="20.2" fill="#e1f2da"/>
<rect x="128.9" y="323.5" width="391.1" height="20.2" fill="#e1f2da"/>
<rect x="128.9" y="343.5" width="391.1" height="20.2" fill="#e1f2da"/>
<rect x="128.9" y="363.6" width="391.1" height="20.2" fill="#deeaf5"/>
<rect x="128.9" y="383.7" width="391.1" height="20.2" fill="#deeaf5"/>
<rect x="128.9" y="403.8" width="391.1" height="20.2" fill="#f7f2cd"/>
<rect x="128.9" y="423.9" width="391.1" height="20.2" fill="#f7f2cd"/>
<rect x="128.9" y="443.9" width="391.1" height="20.2" fill="#f7f2cd"/>
<rect x="128.9" y="464" width="391.1" height="20.2" fill="#f7f2cd"/>
<path d="M128.9 303.4H520M128.9 323.5H520M128.9 343.5H520M128.9 363.6H520M128.9 383.7H520M128.9 403.8H520M128.9 423.9H520M128.9 443.9H520M128.9 464H520M128.9 484.1H520M128.9 283.3V484.1M520 283.3V484.1" stroke="#6f8fd6" stroke-width="1.2" fill="none"/>
<g font-size="10.5" font-weight="bold" fill="#fff"><text x="134.3" y="296.5">Biological process</text><text x="301" y="296.5">NES</text><text x="405.5" y="296.5"><tspan font-style="italic">P</tspan> value</text></g>
<g font-size="10.3" fill="#111"><text x="133.6" y="316.7" font-size="10.65">JAK-STAT signaling</text><text x="301" y="316.7">1.6151658</text><text x="405.3" y="316.7">0.017441861</text><text x="133.6" y="336.8" font-size="10.65">Glycolysis</text><text x="301" y="336.8">1.7281512</text><text x="405.3" y="336.8">0.010339734</text><text x="133.6" y="356.8" font-size="10.65">Hypoxia</text><text x="301" y="356.8">1.6778125</text><text x="405.3" y="356.8">0.014792912</text><text x="133.6" y="376.9" font-size="10.65">Myeloid leukocyte differentiation</text><text x="301" y="376.9">1.670415</text><text x="405.3" y="376.9">0.022328548</text><text x="133.6" y="397" font-size="10.65">Inflammatory response</text><text x="301" y="397">2.0170383</text><text x="405.3" y="397">0</text><text x="133.6" y="417.1" font-size="10.65">Mesenchymal transition</text><text x="301" y="417.1">1.4740428</text><text x="405.3" y="417.1">0.043892214</text><text x="133.6" y="437.2" font-size="10.65">Angiogenesis</text><text x="301" y="437.2">1.6541264</text><text x="405.3" y="437.2">0</text><text x="133.6" y="457.2" font-size="10.65">Endothelial cell migration</text><text x="301" y="457.2">1.7378929</text><text x="405.3" y="457.2">0</text><text x="133.6" y="477.3" font-size="10.65">Endothelial cell proliferation</text><text x="301" y="477.3">1.4018459</text><text x="405.3" y="477.3">0</text></g>
<text x="0.8" y="520.1" font-size="13.6" font-weight="bold">d</text>
<rect x="28.9" y="527.5" width="317.1" height="63.8" fill="#fff"/>
<rect x="28.9" y="554" width="317.1" height="37.3" fill="#f8f8f8"/>
<path d="M31.1 528.5V590.3" stroke="#c8c8c8" stroke-width="0.6"/>
<path d="M32.1 530.3h25" stroke="#777" stroke-width="1.3" stroke-dasharray="1.2 0.5"/>
<rect x="31.9" y="531.7" width="311.1" height="2.3" fill="#fff" stroke="#777" stroke-width="0.5"/>
<rect x="44.4" y="531.7" width="7" height="2.3" fill="#999"/><rect x="59.5" y="531.7" width="18" height="2.3" fill="#111"/><rect x="81.3" y="531.7" width="7.4" height="2.3" fill="#999"/><rect x="116.3" y="531.7" width="11" height="2.3" fill="#111"/><rect x="129.1" y="531.7" width="7.5" height="2.3" fill="#111"/><rect x="147.1" y="531.7" width="18.7" height="2.3" fill="#111"/><rect x="171.7" y="531.7" width="16.3" height="2.3" fill="#999"/><rect x="201.5" y="531.7" width="11" height="2.3" fill="#111"/><rect x="214.9" y="531.7" width="9.3" height="2.3" fill="#111"/><rect x="240.6" y="531.7" width="19.8" height="2.3" fill="#111"/><rect x="262.7" y="531.7" width="7.1" height="2.3" fill="#999"/><rect x="270.9" y="531.7" width="7" height="2.3" fill="#999"/><rect x="285" y="531.7" width="7" height="2.3" fill="#111"/><rect x="296.6" y="531.7" width="5.9" height="2.3" fill="#111"/><rect x="309.5" y="531.7" width="5.8" height="2.3" fill="#999"/><rect x="324.7" y="531.7" width="7" height="2.3" fill="#999"/>
<path d="M140 531.7L143.5 532.9L140 534ZM147 531.7L143.5 532.9L147 534Z" fill="#e8221a"/>
<path d="M35.9 535.6h3.4M50.4 535.6h5.3M63.2 535.6h4.5M76.4 535.6h5M92.1 535.6h3.3M101.5 535.6h5.5M115.6 535.6h5.3M126.9 535.6h4.3M141.6 535.6h3.7M157 535.6h5.7M168.8 535.6h3.1M181.2 535.6h5.8M195.3 535.6h3.6M207.5 535.6h3.1M217.9 535.6h4.3M231.2 535.6h3.7M242.2 535.6h3.7M254.7 535.6h3.9M264.7 535.6h5.5M279.5 535.6h4.9M291.6 535.6h6M308.7 535.6h3.4M320.1 535.6h5.2" stroke="#8a8a8a" stroke-width="0.9" fill="none"/>
<rect x="110.2" y="531.1" width="1.6" height="3.5" fill="#f01010"/>
<path d="M32.4 544.5L111 534.3L342.5 544.5" stroke="#222" stroke-width="0.75" fill="none"/>
<path d="M32.4 544.5H342.5" stroke="#666" stroke-width="0.5" fill="none"/>
<path d="M32.4 544.5l1.2 -0.9v1.8z M342.5 544.5l-1.2 -0.9v1.8z" fill="#222"/>
<rect x="189.5" y="543" width="9" height="3" fill="#fff"/><path d="M190 544.5h8" stroke="#444" stroke-width="1" stroke-dasharray="1.3 0.4"/>
<path d="M42.9 550.8v1.8M58.2 550.8v1.8M73.5 550.8v1.8M88.8 550.8v1.8M104.1 550.8v1.8M119.4 550.8v1.8M134.7 550.8v1.8M150 550.8v1.8M165.3 550.8v1.8M180.6 550.8v1.8M195.9 550.8v1.8M211.2 550.8v1.8M226.5 550.8v1.8M241.8 550.8v1.8M257.1 550.8v1.8M272.4 550.8v1.8M287.7 550.8v1.8M303 550.8v1.8M318.3 550.8v1.8M333.6 550.8v1.8" stroke="#888" stroke-width="0.5" fill="none"/>
<path d="M54.7 548.5h7M85.3 548.5h7M115.9 548.5h7M146.5 548.5h7M177.1 548.5h7M207.7 548.5h7M238.3 548.5h7M268.9 548.5h7M299.5 548.5h7M330.1 548.5h7" stroke="#999" stroke-width="0.8" stroke-dasharray="1.4 0.5" fill="none"/>
<path d="M31.9 552.8H343" stroke="#bbb" stroke-width="0.6" fill="none"/>
<rect x="31.4" y="554" width="312.1" height="1.4" fill="#e6e6e6"/>
<path d="M32.4 557h5" stroke="#666" stroke-width="0.9" stroke-dasharray="1 0.8"/>
<rect x="31.2" y="575.1" width="4.4" height="1.9" fill="#ff1a1a"/><rect x="43.3" y="571.9" width="4.4" height="5.1" fill="#ff1a1a"/><rect x="44.5" y="569.5" width="2" height="7.5" fill="#ff1a1a"/><rect x="49.9" y="575.1" width="3.2" height="1.9" fill="#ff1a1a"/><rect x="54" y="568" width="5" height="9" fill="#ff1a1a"/><rect x="55.5" y="564.6" width="2.5" height="12.4" fill="#ff1a1a"/><rect x="60.1" y="569.7" width="3.7" height="7.3" fill="#ff1a1a"/><rect x="63.8" y="571.6" width="1.8" height="5.4" fill="#1212f0"/><rect x="65.2" y="558" width="3.7" height="19" fill="#ff1a1a"/><rect x="68.9" y="575" width="2.2" height="2" fill="#ff1a1a"/><rect x="75" y="575.1" width="3.8" height="1.9" fill="#ff1a1a"/><rect x="81.3" y="575.1" width="3.6" height="1.9" fill="#ff1a1a"/><rect x="94.4" y="576" width="3.6" height="1" fill="#ff9090"/><rect x="100.7" y="576" width="3.2" height="1" fill="#ff9090"/><rect x="117.8" y="576" width="2.9" height="1" fill="#9090f0"/><rect x="125" y="565" width="3.2" height="12" fill="#ff1a1a"/><rect x="170.5" y="565.4" width="5.3" height="11.6" fill="#ff1a1a"/><rect x="172.8" y="557.9" width="1.4" height="19.1" fill="#ff1a1a"/><rect x="175.5" y="569.6" width="5.5" height="7.4" fill="#1212f0"/><rect x="186.3" y="576.3" width="3.5" height="0.7" fill="#9090f0"/><rect x="192.1" y="568.4" width="4.7" height="8.6" fill="#1212f0"/><rect x="193.7" y="560" width="1.7" height="17" fill="#1212f0"/><rect x="200.3" y="574.2" width="4.4" height="2.8" fill="#ff1a1a"/><rect x="203.8" y="557.9" width="3.9" height="19.1" fill="#ff1a1a"/><rect x="210.8" y="575" width="3.5" height="2" fill="#1212f0"/><rect x="212.5" y="576" width="3" height="1" fill="#ff1a1a"/><rect x="215.2" y="566.1" width="4.4" height="10.9" fill="#1212f0"/><rect x="216" y="559.1" width="2.8" height="17.9" fill="#1212f0"/><rect x="219.6" y="571.9" width="4.4" height="5.1" fill="#ff1a1a"/><rect x="226.3" y="567.5" width="6.4" height="9.5" fill="#ff1a1a"/><rect x="228.5" y="561.9" width="2.5" height="15.1" fill="#ff1a1a"/><rect x="236.2" y="558" width="3.6" height="19" fill="#ff1a1a"/><rect x="242.6" y="566" width="10.5" height="11" fill="#ff1a1a"/><rect x="243.4" y="558.1" width="4.2" height="18.9" fill="#ff1a1a"/><rect x="249.3" y="559.7" width="3.8" height="17.3" fill="#ff1a1a"/><rect x="255.1" y="568.5" width="5.1" height="8.5" fill="#ff1a1a"/><rect x="256.8" y="560" width="2" height="17" fill="#ff1a1a"/><rect x="261" y="574.3" width="7.6" height="2.7" fill="#1212f0"/><rect x="273.3" y="576" width="2.8" height="1" fill="#ff9090"/><rect x="280" y="572.2" width="3.7" height="4.8" fill="#ff1a1a"/><rect x="285" y="569.8" width="3.7" height="7.2" fill="#ff1a1a"/><rect x="289.5" y="573.5" width="7.5" height="3.5" fill="#ff1a1a"/><rect x="290.4" y="571" width="5" height="6" fill="#1212f0"/><rect x="292" y="565.1" width="1.7" height="11.9" fill="#1212f0"/><rect x="310.2" y="568.5" width="4.5" height="8.5" fill="#ff1a1a"/><rect x="311.5" y="565.1" width="1.5" height="11.9" fill="#ff1a1a"/><rect x="317.3" y="557.6" width="4.2" height="19.4" fill="#ff1a1a"/><rect x="322.6" y="558.1" width="3.9" height="18.9" fill="#ff1a1a"/>
<path d="M31.4 577.3H343.5" stroke="#f07070" stroke-width="0.6" fill="none"/>
<rect x="31.4" y="577.6" width="312.1" height="3" fill="#f4f4f4"/>
<path d="M32.9 584.3H342" stroke="#5050ea" stroke-width="0.5" fill="none"/>
<path d="M34.9 584.3H342" stroke="#3030e0" stroke-width="1.2" stroke-dasharray="0.8 4.6" fill="none"/>
<rect x="242.6" y="583.4" width="17.2" height="1.8" fill="#1a10e8"/>
<rect x="250.1" y="582.5" width="9.7" height="3.6" fill="#1a10e8"/>
<rect x="269.6" y="583.1" width="1.4" height="2.4" fill="#1a10e8"/>
<rect x="306.4" y="582.8" width="0.8" height="3" fill="#1a10e8"/>
<text x="179.7" y="589" font-size="4.2" fill="#1a1a1a">POLR1C</text>
<text x="286.2" y="589.2" font-size="4.2" fill="#1a1a1a">VEGFA</text>
<rect x="239.3" y="578.5" width="105.2" height="11.5" fill="none" stroke="#3c28e6" stroke-width="1.3"/>
<rect x="28.9" y="527.5" width="317.1" height="63.8" fill="none" stroke="#2a2a2a" stroke-width="1.6"/>
<text x="32.7" y="523.2" font-size="10.5" fill="#111">chr14:62,166,569-62,223,314</text>
<text transform="translate(23.4 566.4) rotate(-90)" text-anchor="middle" font-size="12.8" fill="#111">VEGFA</text>
<rect x="28.9" y="605.5" width="317.1" height="63.5" fill="#fff"/>
<rect x="28.9" y="632" width="317.1" height="37" fill="#f8f8f8"/>
<path d="M31.1 606.5V668" stroke="#c8c8c8" stroke-width="0.6"/>
<path d="M32.1 608.3h25" stroke="#777" stroke-width="1.3" stroke-dasharray="1.2 0.5"/>
<rect x="31.9" y="609.7" width="311.1" height="2.3" fill="#fff" stroke="#777" stroke-width="0.5"/>
<rect x="42" y="609.7" width="16.4" height="2.3" fill="#111"/><rect x="61.9" y="609.7" width="11.6" height="2.3" fill="#111"/><rect x="80.6" y="609.7" width="19.8" height="2.3" fill="#111"/><rect x="105" y="609.7" width="11.8" height="2.3" fill="#111"/><rect x="122.6" y="609.7" width="12.9" height="2.3" fill="#111"/><rect x="163.5" y="609.7" width="10.5" height="2.3" fill="#999"/><rect x="176.3" y="609.7" width="11.7" height="2.3" fill="#111"/><rect x="191.5" y="609.7" width="9.3" height="2.3" fill="#111"/><rect x="205.5" y="609.7" width="18.7" height="2.3" fill="#111"/><rect x="244" y="609.7" width="14" height="2.3" fill="#111"/><rect x="263.9" y="609.7" width="4.7" height="2.3" fill="#111"/><rect x="295.5" y="609.7" width="8.8" height="2.3" fill="#999"/><rect x="314" y="609.7" width="14" height="2.3" fill="#111"/>
<path d="M146 609.7L149.5 610.9L146 612ZM153 609.7L149.5 610.9L153 612Z" fill="#e8221a"/>
<path d="M35.9 613.6h5.9M53.5 613.6h3.2M63.1 613.6h5.5M79.1 613.6h5M91.9 613.6h4.8M106.4 613.6h4.7M118.1 613.6h4.3M130.7 613.6h5.2M147.9 613.6h5.8M163 613.6h4.3M174.9 613.6h3.1M184.2 613.6h4.4M196.5 613.6h4.1M212 613.6h4.6M225.9 613.6h3.7M235.8 613.6h4M246.6 613.6h4.5M263.1 613.6h5M275.2 613.6h5.7M291.7 613.6h5.2M308.3 613.6h5.3M324.3 613.6h4.1" stroke="#8a8a8a" stroke-width="0.9" fill="none"/>
<rect x="75.7" y="609.1" width="1.6" height="3.5" fill="#f01010"/>
<path d="M32.4 622.5L76.5 612.3L342.5 622.5" stroke="#222" stroke-width="0.75" fill="none"/>
<path d="M32.4 622.5H342.5" stroke="#666" stroke-width="0.5" fill="none"/>
<path d="M32.4 622.5l1.2 -0.9v1.8z M342.5 622.5l-1.2 -0.9v1.8z" fill="#222"/>
<rect x="183.1" y="621" width="9" height="3" fill="#fff"/><path d="M183.6 622.5h8" stroke="#444" stroke-width="1" stroke-dasharray="1.3 0.4"/>
<path d="M35.3 628.8v1.8M53.1 628.8v1.8M71 628.8v1.8M88.8 628.8v1.8M106.7 628.8v1.8M124.5 628.8v1.8M142.4 628.8v1.8M160.2 628.8v1.8M178.1 628.8v1.8M195.9 628.8v1.8M213.8 628.8v1.8M231.6 628.8v1.8M249.5 628.8v1.8M267.3 628.8v1.8M285.2 628.8v1.8M303.1 628.8v1.8M320.9 628.8v1.8M338.8 628.8v1.8" stroke="#888" stroke-width="0.5" fill="none"/>
<path d="M31.8 626.5h7M67.5 626.5h7M103.2 626.5h7M138.9 626.5h7M174.6 626.5h7M210.3 626.5h7M246 626.5h7M281.7 626.5h7M317.4 626.5h7" stroke="#999" stroke-width="0.8" stroke-dasharray="1.4 0.5" fill="none"/>
<path d="M31.9 630.8H343" stroke="#bbb" stroke-width="0.6" fill="none"/>
<rect x="31.4" y="632" width="312.1" height="1.4" fill="#e6e6e6"/>
<path d="M32.4 635h5" stroke="#666" stroke-width="0.9" stroke-dasharray="1 0.8"/>
<rect x="76.2" y="653.6" width="7.6" height="1.6" fill="#ff1a1a"/><rect x="89" y="653.6" width="7" height="1.6" fill="#ff1a1a"/><rect x="103.2" y="642.7" width="8.7" height="12.5" fill="#1212f0"/><rect x="105.4" y="635.8" width="4.6" height="19.4" fill="#1212f0"/><rect x="136.9" y="642" width="7.3" height="13.2" fill="#ff1a1a"/><rect x="147.7" y="642" width="14.3" height="13.2" fill="#ff1a1a"/><rect x="153" y="635.9" width="14" height="19.3" fill="#ff4a4a"/><rect x="162.6" y="647" width="15.2" height="8.2" fill="#ff1a1a"/><rect x="256.2" y="645.3" width="14.7" height="9.9" fill="#ff4a4a"/><rect x="288.4" y="652.4" width="12.9" height="2.8" fill="#ff1a1a"/><rect x="294.3" y="648.4" width="1.6" height="6.8" fill="#ff1a1a"/><rect x="325.8" y="644.2" width="8.9" height="11" fill="#ff1a1a"/><rect x="328.2" y="636.2" width="5.1" height="19" fill="#ff1a1a"/>
<path d="M31.4 655.5H343.5" stroke="#f07070" stroke-width="0.6" fill="none"/>
<rect x="31.4" y="655.8" width="312.1" height="3" fill="#f4f4f4"/>
<path d="M83 662.4H342" stroke="#5050ea" stroke-width="0.5" fill="none"/>
<path d="M85 662.4H342" stroke="#3030e0" stroke-width="1.2" stroke-dasharray="0.8 4.6" fill="none"/>
<rect x="35.3" y="661.3" width="47.4" height="2.2" fill="#1a10e8"/>
<rect x="102.5" y="660.9" width="2" height="3" fill="#1a10e8"/>
<rect x="109" y="660.6" width="6.3" height="3.6" fill="#1a10e8"/>
<rect x="153.3" y="660.6" width="3.8" height="3.6" fill="#1a10e8"/>
<rect x="182.1" y="660.6" width="5.4" height="3.6" fill="#1a10e8"/>
<rect x="250.6" y="660.6" width="5.1" height="3.6" fill="#1a10e8"/>
<rect x="255.7" y="661.4" width="15.2" height="2" fill="#1a10e8"/>
<text x="68" y="667.7" font-size="4.4" fill="#1a1a1a">IL6-AS1</text>
<text x="183.3" y="667.3" font-size="4.2" fill="#1a1a1a">IL6</text>
<rect x="99.2" y="658.9" width="173.4" height="9.6" fill="none" stroke="#3c28e6" stroke-width="1.3"/>
<rect x="28.9" y="605.5" width="317.1" height="63.5" fill="none" stroke="#2a2a2a" stroke-width="1.6"/>
<text x="32.9" y="601.1" font-size="10.5" fill="#111">chr7:22,764,890-22,773,688</text>
<text transform="translate(23.3 643.6) rotate(-90)" text-anchor="middle" font-size="12.5" fill="#111">IL-6</text>
<rect x="28.9" y="683.9" width="317.1" height="63.2" fill="#fff"/>
<rect x="28.9" y="710.4" width="317.1" height="36.7" fill="#f8f8f8"/>
<path d="M31.1 684.9V746.1" stroke="#c8c8c8" stroke-width="0.6"/>
<path d="M32.1 686.7h25" stroke="#777" stroke-width="1.3" stroke-dasharray="1.2 0.5"/>
<rect x="31.9" y="688.1" width="311.1" height="2.3" fill="#dcdcdc" stroke="#777" stroke-width="0.5"/>
<rect x="30" y="688.1" width="2" height="2.3" fill="#bbb"/><rect x="67.2" y="688.1" width="37.8" height="2.3" fill="#999"/><rect x="105" y="688.1" width="11.8" height="2.3" fill="#bbb"/><rect x="120" y="688.1" width="15" height="2.3" fill="#fff"/><rect x="150" y="688.1" width="8" height="2.3" fill="#fff"/><rect x="217.2" y="688.1" width="16.3" height="2.3" fill="#999"/><rect x="234.7" y="688.1" width="24.5" height="2.3" fill="#999"/><rect x="268.6" y="688.1" width="15.2" height="2.3" fill="#999"/><rect x="301.3" y="688.1" width="11.7" height="2.3" fill="#999"/><rect x="327" y="688.1" width="14" height="2.3" fill="#999"/>
<path d="M158.8 688.1L169.9 689.2L158.8 690.4ZM181 688.1L169.9 689.2L181 690.4Z" fill="#e8221a"/>
<path d="M35.9 692h3.7M48.9 692h4.1M62.6 692h4.9M73.9 692h3M87.9 692h3.8M99.1 692h6M113.9 692h5.5M128.3 692h4.9M140.1 692h4.9M156.2 692h4.6M171.3 692h5M182.7 692h5.3M197.5 692h3.9M207.6 692h5.6M222 692h5.2M238.4 692h5.1M255.1 692h4.2M270.1 692h4.3M286 692h5.6M298.3 692h3.4M309 692h5.9M323.5 692h4.9" stroke="#8a8a8a" stroke-width="0.9" fill="none"/>
<rect x="84.9" y="687.5" width="1.6" height="3.5" fill="#f01010"/>
<path d="M32.4 700.9L85.7 690.7L342.5 700.9" stroke="#222" stroke-width="0.75" fill="none"/>
<path d="M32.4 700.9H342.5" stroke="#666" stroke-width="0.5" fill="none"/>
<path d="M32.4 700.9l1.2 -0.9v1.8z M342.5 700.9l-1.2 -0.9v1.8z" fill="#222"/>
<path d="M33.8 707.2v1.8M49.5 707.2v1.8M65.2 707.2v1.8M81 707.2v1.8M96.8 707.2v1.8M112.5 707.2v1.8M128.2 707.2v1.8M144 707.2v1.8M159.8 707.2v1.8M175.5 707.2v1.8M191.2 707.2v1.8M207 707.2v1.8M222.8 707.2v1.8M238.5 707.2v1.8M254.2 707.2v1.8M270 707.2v1.8M285.8 707.2v1.8M301.5 707.2v1.8M317.2 707.2v1.8M333 707.2v1.8" stroke="#888" stroke-width="0.5" fill="none"/>
<path d="M46 704.9h7M77.5 704.9h7M109 704.9h7M140.5 704.9h7M172 704.9h7M203.5 704.9h7M235 704.9h7M266.5 704.9h7M298 704.9h7M329.5 704.9h7" stroke="#999" stroke-width="0.8" stroke-dasharray="1.4 0.5" fill="none"/>
<path d="M31.9 709.2H343" stroke="#bbb" stroke-width="0.6" fill="none"/>
<rect x="31.4" y="710.4" width="312.1" height="1.4" fill="#e6e6e6"/>
<path d="M32.4 713.4h5" stroke="#666" stroke-width="0.9" stroke-dasharray="1 0.8"/>
<rect x="34.5" y="732" width="2.8" height="0.9" fill="#ff9090"/><rect x="40.1" y="732" width="3.1" height="0.9" fill="#ff9090"/><rect x="49" y="731" width="7.5" height="1.9" fill="#ff1a1a"/><rect x="66.5" y="731.5" width="4.7" height="1.4" fill="#ff1a1a"/><rect x="68" y="731" width="2" height="1.9" fill="#1212f0"/><rect x="74.7" y="729.9" width="8.2" height="3" fill="#ff1a1a"/><rect x="78.9" y="725.9" width="1.7" height="7" fill="#ff1a1a"/><rect x="103.9" y="732.2" width="3.5" height="0.7" fill="#ff9090"/><rect x="110" y="732.3" width="2" height="0.6" fill="#ff9090"/><rect x="121.4" y="724" width="7.5" height="8.9" fill="#ff1a1a"/><rect x="122.5" y="721" width="4.5" height="11.9" fill="#ff1a1a"/><rect x="123.3" y="717.5" width="1.6" height="15.4" fill="#ff1a1a"/><rect x="137.8" y="731.8" width="7" height="1.1" fill="#1212f0"/><rect x="154.1" y="729.4" width="5.9" height="3.5" fill="#ff1a1a"/><rect x="161.1" y="725.2" width="7.1" height="7.7" fill="#ff1a1a"/><rect x="164" y="722" width="2" height="10.9" fill="#ff1a1a"/><rect x="171" y="723.6" width="5.3" height="9.3" fill="#ff1a1a"/><rect x="178.7" y="731.8" width="3.5" height="1.1" fill="#1212f0"/><rect x="182.6" y="717.5" width="5.4" height="15.4" fill="#ff1a1a"/><rect x="188" y="727.5" width="2.3" height="5.4" fill="#ff1a1a"/><rect x="190.3" y="724" width="2.8" height="8.9" fill="#1212f0"/><rect x="195" y="730.4" width="3.5" height="2.5" fill="#1212f0"/><rect x="220.7" y="732" width="3.5" height="0.9" fill="#9090f0"/><rect x="226.5" y="732" width="3.1" height="0.9" fill="#9090f0"/><rect x="256.2" y="732" width="8.9" height="0.9" fill="#ff1a1a"/><rect x="258" y="731.6" width="7.1" height="1.3" fill="#1212f0"/><rect x="265.1" y="731.6" width="4.7" height="1.3" fill="#1212f0"/><rect x="271.6" y="724" width="3.3" height="8.9" fill="#1212f0"/><rect x="275.6" y="724" width="3.5" height="8.9" fill="#1212f0"/><rect x="286.1" y="731.5" width="3.5" height="1.4" fill="#1212f0"/><rect x="293.1" y="731.5" width="3.5" height="1.4" fill="#1212f0"/><rect x="313.7" y="727.5" width="3.9" height="5.4" fill="#ff1a1a"/><rect x="321.6" y="727.5" width="3.8" height="5.4" fill="#ff1a1a"/><rect x="331" y="732" width="3.7" height="0.9" fill="#1212f0"/><rect x="337.5" y="727.5" width="3.5" height="5.4" fill="#1212f0"/><rect x="340" y="722.9" width="1.5" height="10" fill="#1212f0"/>
<path d="M31.4 733.2H343.5" stroke="#f07070" stroke-width="0.6" fill="none"/>
<rect x="31.4" y="733.5" width="312.1" height="3" fill="#f4f4f4"/>
<path d="M205.5 740H340" stroke="#5050ea" stroke-width="0.5" fill="none"/>
<path d="M207.5 740H340" stroke="#3030e0" stroke-width="1.2" stroke-dasharray="0.8 4.6" fill="none"/>
<rect x="205" y="738.5" width="1.5" height="3" fill="#1a10e8"/>
<rect x="262.7" y="738.2" width="4.3" height="3.6" fill="#1a10e8"/>
<text x="267.2" y="745.4" font-size="4.4" fill="#1a1a1a">ICAM1</text>
<rect x="203.2" y="735.3" width="139.4" height="10.9" fill="none" stroke="#3c28e6" stroke-width="1.3"/>
<rect x="28.9" y="683.9" width="317.1" height="63.2" fill="none" stroke="#2a2a2a" stroke-width="1.6"/>
<text x="32.9" y="680.4" font-size="10.5" fill="#111">chr19:10,370,872-10,390,367</text>
<text transform="translate(23.3 714.5) rotate(-90)" text-anchor="middle" font-size="12.3" fill="#111">ICAM-1</text>
<rect x="28.9" y="761" width="317.1" height="60.6" fill="#fff"/>
<rect x="28.9" y="788" width="317.1" height="33.6" fill="#f8f8f8"/>
<path d="M31.1 762V820.6" stroke="#c8c8c8" stroke-width="0.6"/>
<path d="M32.1 763.8h25" stroke="#777" stroke-width="1.3" stroke-dasharray="1.2 0.5"/>
<rect x="31.9" y="765.5" width="311.1" height="2.3" fill="#fff" stroke="#777" stroke-width="0.5"/>
<rect x="56" y="765.5" width="21" height="2.3" fill="#111"/><rect x="91.1" y="765.5" width="28.5" height="2.3" fill="#111"/><rect x="135.5" y="765.5" width="7" height="2.3" fill="#999"/><rect x="216" y="765.5" width="21" height="2.3" fill="#111"/><rect x="276.8" y="765.5" width="25.7" height="2.3" fill="#111"/><rect x="309.5" y="765.5" width="9.3" height="2.3" fill="#999"/>
<path d="M157.6 765.5L166.4 766.6L157.6 767.8ZM175.2 765.5L166.4 766.6L175.2 767.8Z" fill="#e8221a"/>
<path d="M35.9 769.4h3.7M46.2 769.4h4.2M57.3 769.4h3.2M69 769.4h5.8M85.5 769.4h5.3M98.1 769.4h4.6M110.4 769.4h3.5M120.6 769.4h3.6M135.8 769.4h5.5M152.1 769.4h5.4M164.7 769.4h3.9M178.4 769.4h5.2M194.7 769.4h5.6M206.8 769.4h4.8M221.7 769.4h4.5M233.3 769.4h4.4M244.2 769.4h5.8M261.2 769.4h4.6M273.7 769.4h5.7M288.8 769.4h5.6M305.6 769.4h4.5M318.6 769.4h4.8M332 769.4h3.5" stroke="#8a8a8a" stroke-width="0.9" fill="none"/>
<rect x="269.4" y="764.9" width="1.6" height="3.5" fill="#f01010"/>
<path d="M32.4 778.6L270.2 768.1L342.5 778.6" stroke="#222" stroke-width="0.75" fill="none"/>
<path d="M32.4 778.6H342.5" stroke="#666" stroke-width="0.5" fill="none"/>
<path d="M32.4 778.6l1.2 -0.9v1.8z M342.5 778.6l-1.2 -0.9v1.8z" fill="#222"/>
<rect x="181.5" y="777.1" width="9" height="3" fill="#fff"/><path d="M182 778.6h8" stroke="#444" stroke-width="1" stroke-dasharray="1.3 0.4"/>
<path d="M36.2 784.6v1.8M52.5 784.6v1.8M68.9 784.6v1.8M85.2 784.6v1.8M101.6 784.6v1.8M117.9 784.6v1.8M134.3 784.6v1.8M150.6 784.6v1.8M167 784.6v1.8M183.3 784.6v1.8M199.7 784.6v1.8M216 784.6v1.8M232.4 784.6v1.8M248.7 784.6v1.8M265.1 784.6v1.8M281.4 784.6v1.8M297.8 784.6v1.8M314.2 784.6v1.8M330.5 784.6v1.8" stroke="#888" stroke-width="0.5" fill="none"/>
<path d="M32.7 782.3h7M65.4 782.3h7M98.1 782.3h7M130.8 782.3h7M163.5 782.3h7M196.2 782.3h7M228.9 782.3h7M261.6 782.3h7M294.3 782.3h7M327 782.3h7" stroke="#999" stroke-width="0.8" stroke-dasharray="1.4 0.5" fill="none"/>
<path d="M31.9 786.6H343" stroke="#bbb" stroke-width="0.6" fill="none"/>
<rect x="31.4" y="788" width="312.1" height="1.4" fill="#e6e6e6"/>
<path d="M32.4 791.2h5" stroke="#666" stroke-width="0.9" stroke-dasharray="1 0.8"/>
<rect x="32.7" y="809.9" width="7" height="0.7" fill="#1212f0"/><rect x="65.4" y="800.5" width="7" height="10.1" fill="#ff1a1a"/><rect x="74" y="800.5" width="6.6" height="10.1" fill="#ff1a1a"/><rect x="93.4" y="803.8" width="8.2" height="6.8" fill="#ff1a1a"/><rect x="100.4" y="807.5" width="6.6" height="3.1" fill="#f04070"/><rect x="107.9" y="803.8" width="7" height="6.8" fill="#ff1a1a"/><rect x="114.9" y="808.2" width="4.2" height="2.4" fill="#1212f0"/><rect x="128" y="809" width="2.8" height="1.6" fill="#1212f0"/><rect x="144.3" y="803.8" width="6.3" height="6.8" fill="#ff1a1a"/><rect x="152.3" y="802.4" width="6.5" height="8.2" fill="#ff1a1a"/><rect x="188" y="804.7" width="2.3" height="5.9" fill="#ff1a1a"/><rect x="190.3" y="800" width="6.6" height="10.6" fill="#ff1a1a"/><rect x="196.9" y="804" width="5.1" height="6.6" fill="#ff1a1a"/><rect x="202" y="802.4" width="5.9" height="8.2" fill="#ff1a1a"/><rect x="246.9" y="803.8" width="7" height="6.8" fill="#ff1a1a"/><rect x="254.6" y="809" width="3.4" height="1.6" fill="#1212f0"/><rect x="257" y="805.4" width="1.5" height="5.2" fill="#1212f0"/><rect x="263.2" y="803.8" width="6.6" height="6.8" fill="#ff1a1a"/><rect x="270" y="809.5" width="20" height="1.1" fill="#ff9090"/><rect x="302.5" y="809" width="7" height="1.6" fill="#1212f0"/><rect x="311.8" y="804.7" width="3.5" height="5.9" fill="#1212f0"/><rect x="314.1" y="798.2" width="9.4" height="12.4" fill="#1212f0"/><rect x="318" y="796.5" width="2.5" height="14.1" fill="#1212f0"/><rect x="323.5" y="791.9" width="7" height="18.7" fill="#f04070"/><rect x="328.2" y="805.9" width="7" height="4.7" fill="#ff1a1a"/><rect x="337" y="806.6" width="4.7" height="4" fill="#1212f0"/>
<path d="M31.4 810.9H343.5" stroke="#f07070" stroke-width="0.6" fill="none"/>
<rect x="31.4" y="811.2" width="312.1" height="0.1" fill="#f4f4f4"/>
<path d="M121 814.5H314" stroke="#5050ea" stroke-width="0.5" fill="none"/>
<path d="M123 814.5H314" stroke="#3030e0" stroke-width="1.2" stroke-dasharray="0.8 4.6" fill="none"/>
<rect x="121.4" y="813" width="4.2" height="3" fill="#1a10e8"/>
<rect x="147.6" y="813" width="17.8" height="3" fill="#1a10e8"/>
<rect x="280.3" y="812.7" width="5.8" height="3.6" fill="#1a10e8"/>
<rect x="286" y="813.6" width="28" height="1.8" fill="#1a10e8"/>
<text x="211.4" y="820" font-size="4.2" fill="#1a1a1a">SNAI1</text>
<rect x="119.6" y="809.9" width="194.5" height="8.4" fill="none" stroke="#3c28e6" stroke-width="1.3"/>
<rect x="28.9" y="761" width="317.1" height="60.6" fill="none" stroke="#2a2a2a" stroke-width="1.6"/>
<text x="32.9" y="757" font-size="10.5" fill="#111">chr20:48,596,791-48,606,286</text>
<text transform="translate(23.3 790.2) rotate(-90)" text-anchor="middle" font-size="12.3" fill="#111">SNAIL1</text>
<rect x="366.6" y="527.4" width="316.8" height="64.1" fill="#fff"/>
<rect x="366.6" y="553.9" width="316.8" height="37.6" fill="#f8f8f8"/>
<path d="M368.8 528.4V590.5" stroke="#c8c8c8" stroke-width="0.6"/>
<path d="M369.8 530.2h25" stroke="#777" stroke-width="1.3" stroke-dasharray="1.2 0.5"/>
<rect x="369.6" y="531.6" width="310.8" height="2.3" fill="#fff" stroke="#777" stroke-width="0.5"/>
<rect x="440.9" y="531.6" width="25.7" height="2.3" fill="#111"/><rect x="479.5" y="531.6" width="16.3" height="2.3" fill="#111"/><rect x="511" y="531.6" width="7" height="2.3" fill="#111"/><rect x="539" y="531.6" width="11.7" height="2.3" fill="#111"/><rect x="558.9" y="531.6" width="8.1" height="2.3" fill="#999"/><rect x="574" y="531.6" width="10.6" height="2.3" fill="#999"/><rect x="600.9" y="531.6" width="12.9" height="2.3" fill="#111"/><rect x="617.3" y="531.6" width="15.2" height="2.3" fill="#111"/><rect x="651.1" y="531.6" width="14.1" height="2.3" fill="#999"/><rect x="671" y="531.6" width="3.5" height="2.3" fill="#999"/>
<path d="M416 531.6L420.3 532.8L416 533.9ZM424.6 531.6L420.3 532.8L424.6 533.9Z" fill="#e8221a"/>
<path d="M373.6 535.5h4.9M388.9 535.5h5.4M406 535.5h5.2M422.7 535.5h3.1M434.6 535.5h5.8M450.3 535.5h5.7M462.7 535.5h4.4M474.6 535.5h4.6M488.7 535.5h3M499 535.5h3.8M514.3 535.5h5.3M526.6 535.5h5.4M538.8 535.5h4.9M550.4 535.5h3M564.7 535.5h3.6M575.6 535.5h5.9M592.8 535.5h3.9M608.4 535.5h4.6M623.1 535.5h3.6M638.3 535.5h5.1M655.2 535.5h5.7M668.7 535.5h4.1" stroke="#8a8a8a" stroke-width="0.9" fill="none"/>
<rect x="550.2" y="531" width="1.6" height="3.5" fill="#f01010"/>
<path d="M370.1 544.4L551 534.2L679.9 544.4" stroke="#222" stroke-width="0.75" fill="none"/>
<path d="M370.1 544.4H679.9" stroke="#666" stroke-width="0.5" fill="none"/>
<path d="M370.1 544.4l1.2 -0.9v1.8z M679.9 544.4l-1.2 -0.9v1.8z" fill="#222"/>
<path d="M388.2 550.7v1.8M416 550.7v1.8M443.8 550.7v1.8M471.6 550.7v1.8M499.4 550.7v1.8M527.2 550.7v1.8M555 550.7v1.8M582.8 550.7v1.8M610.6 550.7v1.8M638.4 550.7v1.8M666.2 550.7v1.8" stroke="#888" stroke-width="0.5" fill="none"/>
<path d="M384.7 548.4h7M440.3 548.4h7M495.9 548.4h7M551.5 548.4h7M607.1 548.4h7M662.7 548.4h7" stroke="#999" stroke-width="0.8" stroke-dasharray="1.4 0.5" fill="none"/>
<path d="M369.6 552.7H680.4" stroke="#bbb" stroke-width="0.6" fill="none"/>
<rect x="369.1" y="553.9" width="311.8" height="1.4" fill="#e6e6e6"/>
<path d="M370.1 556.9h5" stroke="#666" stroke-width="0.9" stroke-dasharray="1 0.8"/>
<rect x="367.8" y="563.5" width="1.9" height="13.4" fill="#1212f0"/><rect x="376.2" y="575.8" width="2.8" height="1.1" fill="#ff1a1a"/><rect x="379.5" y="574" width="3" height="2.9" fill="#1212f0"/><rect x="380.9" y="563.5" width="1.6" height="13.4" fill="#ff1a1a"/><rect x="395.4" y="574" width="3.5" height="2.9" fill="#ff1a1a"/><rect x="402.5" y="575.8" width="2" height="1.1" fill="#ff1a1a"/><rect x="406.6" y="573.4" width="3.2" height="3.5" fill="#ff1a1a"/><rect x="423.4" y="563.5" width="1.9" height="13.4" fill="#ff1a1a"/><rect x="430" y="575.2" width="2.3" height="1.7" fill="#ff1a1a"/><rect x="432.7" y="575.2" width="1.9" height="1.7" fill="#ff1a1a"/><rect x="451.9" y="574.8" width="3.1" height="2.1" fill="#ff1a1a"/><rect x="458.9" y="564.7" width="2.3" height="12.2" fill="#ff1a1a"/><rect x="462" y="575.2" width="3" height="1.7" fill="#ff1a1a"/><rect x="469.6" y="572.4" width="2.9" height="4.5" fill="#ff1a1a"/><rect x="471.3" y="572.4" width="2.3" height="4.5" fill="#1212f0"/><rect x="473.2" y="557.7" width="2.1" height="19.2" fill="#ff1a1a"/><rect x="475.3" y="572.9" width="2.3" height="4" fill="#ff1a1a"/><rect x="478.8" y="572.9" width="3" height="4" fill="#ff1a1a"/><rect x="501" y="558.9" width="2" height="18" fill="#ff1a1a"/><rect x="502.8" y="557.7" width="2.4" height="19.2" fill="#1212f0"/><rect x="505.2" y="574" width="2.3" height="2.9" fill="#ff1a1a"/><rect x="513.8" y="567" width="1.9" height="9.9" fill="#ff1a1a"/><rect x="522.7" y="575.8" width="2.3" height="1.1" fill="#ff1a1a"/><rect x="530.1" y="575.8" width="3.8" height="1.1" fill="#ff1a1a"/><rect x="537.8" y="560" width="1.7" height="16.9" fill="#ff1a1a"/><rect x="538.5" y="572.9" width="4" height="4" fill="#ff1a1a"/><rect x="546.7" y="573.4" width="3.5" height="3.5" fill="#ff1a1a"/><rect x="550.2" y="574.8" width="4" height="2.1" fill="#ff1a1a"/><rect x="570.5" y="568.2" width="2.4" height="8.7" fill="#ff1a1a"/><rect x="579.9" y="561.9" width="2.3" height="15" fill="#ff1a1a"/><rect x="590" y="571" width="3.9" height="5.9" fill="#1212f0"/><rect x="591.6" y="572.9" width="3.4" height="4" fill="#ff1a1a"/><rect x="596" y="575" width="2.6" height="1.9" fill="#ff1a1a"/><rect x="599.7" y="565.2" width="2.4" height="11.7" fill="#ff1a1a"/><rect x="610.3" y="575.2" width="4.6" height="1.7" fill="#1212f0"/><rect x="625.9" y="575.5" width="3" height="1.4" fill="#ff1a1a"/><rect x="630.1" y="571" width="2.4" height="5.9" fill="#ff1a1a"/><rect x="632.5" y="571.6" width="2.3" height="5.3" fill="#1212f0"/><rect x="634.3" y="564.7" width="2.8" height="12.2" fill="#ff1a1a"/><rect x="635.3" y="557.7" width="1.3" height="19.2" fill="#ff1a1a"/><rect x="639.5" y="576" width="2.3" height="0.9" fill="#9090f0"/><rect x="654.6" y="575.8" width="4.7" height="1.1" fill="#ff1a1a"/>
<rect x="419.8" y="574" width="1.2" height="2.9" fill="#ff2a2a" fill-opacity="0.85"/><rect x="435.8" y="573.5" width="1.2" height="3.4" fill="#3030ee" fill-opacity="0.85"/><rect x="526.6" y="575.1" width="1.1" height="1.8" fill="#ff6a6a" fill-opacity="0.85"/><rect x="551.8" y="575.3" width="1" height="1.6" fill="#3030ee" fill-opacity="0.85"/><rect x="441.1" y="575.3" width="1.4" height="1.6" fill="#3030ee" fill-opacity="0.85"/><rect x="642.8" y="574.3" width="1.1" height="2.6" fill="#ff6a6a" fill-opacity="0.85"/><rect x="524.2" y="575.3" width="1.1" height="1.6" fill="#3030ee" fill-opacity="0.85"/><rect x="416.6" y="573.4" width="1.5" height="3.5" fill="#ff6a6a" fill-opacity="0.85"/><rect x="510.3" y="574.4" width="1.2" height="2.5" fill="#ff6a6a" fill-opacity="0.85"/><rect x="426.7" y="575.4" width="1" height="1.5" fill="#3030ee" fill-opacity="0.85"/><rect x="613" y="575.1" width="1.5" height="1.8" fill="#3030ee" fill-opacity="0.85"/><rect x="605" y="573.7" width="1.4" height="3.2" fill="#ff2a2a" fill-opacity="0.85"/><rect x="406.5" y="574.6" width="1" height="2.3" fill="#3030ee" fill-opacity="0.85"/><rect x="657.9" y="573.4" width="1.1" height="3.5" fill="#ff6a6a" fill-opacity="0.85"/><rect x="509.7" y="574.8" width="1.1" height="2.1" fill="#3030ee" fill-opacity="0.85"/><rect x="376.4" y="575.3" width="1.6" height="1.6" fill="#3030ee" fill-opacity="0.85"/><rect x="523.7" y="574.6" width="1.4" height="2.3" fill="#ff2a2a" fill-opacity="0.85"/><rect x="437.7" y="574.3" width="1.3" height="2.6" fill="#ff2a2a" fill-opacity="0.85"/><rect x="424.7" y="575.2" width="1.5" height="1.7" fill="#ff6a6a" fill-opacity="0.85"/><rect x="476.8" y="574.3" width="0.9" height="2.6" fill="#ff6a6a" fill-opacity="0.85"/><rect x="388.6" y="573.4" width="1.1" height="3.5" fill="#3030ee" fill-opacity="0.85"/><rect x="582.6" y="574" width="1.6" height="2.9" fill="#3030ee" fill-opacity="0.85"/><rect x="495.8" y="573.4" width="1.3" height="3.5" fill="#3030ee" fill-opacity="0.85"/><rect x="645.3" y="574.6" width="1" height="2.3" fill="#ff6a6a" fill-opacity="0.85"/><rect x="643.1" y="575.2" width="1.4" height="1.7" fill="#ff6a6a" fill-opacity="0.85"/><rect x="611" y="574.6" width="0.8" height="2.3" fill="#3030ee" fill-opacity="0.85"/><rect x="449" y="575" width="0.9" height="1.9" fill="#ff6a6a" fill-opacity="0.85"/><rect x="389.8" y="574.9" width="1.6" height="2" fill="#3030ee" fill-opacity="0.85"/><rect x="602.2" y="574.6" width="1.6" height="2.3" fill="#ff6a6a" fill-opacity="0.85"/><rect x="533" y="573.8" width="1" height="3.1" fill="#ff6a6a" fill-opacity="0.85"/><rect x="631.2" y="573.5" width="1.3" height="3.4" fill="#3030ee" fill-opacity="0.85"/><rect x="501.8" y="574.4" width="1" height="2.5" fill="#3030ee" fill-opacity="0.85"/><rect x="535.8" y="575" width="0.8" height="1.9" fill="#3030ee" fill-opacity="0.85"/><rect x="583.2" y="573.4" width="1.3" height="3.5" fill="#ff6a6a" fill-opacity="0.85"/><rect x="570.2" y="573.4" width="1" height="3.5" fill="#ff2a2a" fill-opacity="0.85"/><rect x="495.4" y="573.4" width="0.9" height="3.5" fill="#3030ee" fill-opacity="0.85"/><rect x="397.8" y="575.3" width="1.2" height="1.6" fill="#ff6a6a" fill-opacity="0.85"/><rect x="412.2" y="573.4" width="0.9" height="3.5" fill="#3030ee" fill-opacity="0.85"/><rect x="537.1" y="574.9" width="1" height="2" fill="#ff6a6a" fill-opacity="0.85"/><rect x="420.1" y="575.2" width="1.4" height="1.7" fill="#ff6a6a" fill-opacity="0.85"/>
<path d="M369.1 577.2H680.9" stroke="#f07070" stroke-width="0.6" fill="none"/>
<rect x="369.1" y="577.5" width="311.8" height="3" fill="#f4f4f4"/>
<path d="M369 584.6H652.3" stroke="#5050ea" stroke-width="0.5" fill="none"/>
<path d="M371 584.6H652.3" stroke="#3030e0" stroke-width="1.2" stroke-dasharray="0.8 4.6" fill="none"/>
<rect x="483" y="583.1" width="1.5" height="3" fill="#1a10e8"/>
<rect x="490" y="583.1" width="1.5" height="3" fill="#1a10e8"/>
<rect x="518" y="583.1" width="1.5" height="3" fill="#1a10e8"/>
<rect x="521.5" y="583.1" width="1.5" height="3" fill="#1a10e8"/>
<rect x="549.5" y="583.1" width="1.5" height="3" fill="#1a10e8"/>
<rect x="558.9" y="583.1" width="1.5" height="3" fill="#1a10e8"/>
<rect x="574" y="583.1" width="1.5" height="3" fill="#1a10e8"/>
<rect x="581.1" y="583.1" width="1.5" height="3" fill="#1a10e8"/>
<rect x="595" y="582.8" width="2.5" height="3.6" fill="#1a10e8"/>
<rect x="615" y="583.1" width="1.5" height="3" fill="#1a10e8"/>
<rect x="623.1" y="583.1" width="1.5" height="3" fill="#1a10e8"/>
<rect x="630.1" y="583.1" width="1.5" height="3" fill="#1a10e8"/>
<rect x="651.5" y="583.1" width="1.5" height="3" fill="#1a10e8"/>
<text x="497" y="589.4" font-size="4.2" fill="#1a1a1a">HIF1A</text>
<text x="543.7" y="589.4" font-size="4.2" fill="#1a1a1a">HIF1A-AS3</text>
<text x="625.4" y="589.4" font-size="4.2" fill="#1a1a1a">HIF1A-AS2</text>
<rect x="454.5" y="579.2" width="186.8" height="11.7" fill="none" stroke="#3c28e6" stroke-width="1.3"/>
<rect x="366.6" y="527.4" width="316.8" height="64.1" fill="none" stroke="#2a2a2a" stroke-width="1.6"/>
<text x="371.2" y="524.4" font-size="10.5" fill="#111">chr14:62,166,569-62,223,314</text>
<text transform="translate(362.7 562.6) rotate(-90)" text-anchor="middle" font-size="12.9" fill="#111">HIF-1α</text>
<rect x="366.6" y="604.2" width="316.8" height="73.1" fill="#fff"/>
<rect x="366.6" y="627" width="316.8" height="50.3" fill="#f8f8f8"/>
<path d="M368.8 605.2V676.3" stroke="#c8c8c8" stroke-width="0.6"/>
<path d="M369.8 606.6h25" stroke="#777" stroke-width="1.3" stroke-dasharray="1.2 0.5"/>
<rect x="369.6" y="608.2" width="310.8" height="2" fill="#fff" stroke="#777" stroke-width="0.5"/>
<rect x="385.4" y="608.2" width="8.1" height="2" fill="#999"/><rect x="400" y="608.2" width="8.5" height="2" fill="#111"/><rect x="411" y="608.2" width="7.3" height="2" fill="#111"/><rect x="426.3" y="608.2" width="8.7" height="2" fill="#999"/><rect x="442" y="608.2" width="6.2" height="2" fill="#999"/><rect x="470" y="608.2" width="10" height="2" fill="#111"/><rect x="495" y="608.2" width="8" height="2" fill="#111"/><rect x="525" y="608.2" width="15" height="2" fill="#111"/><rect x="552" y="608.2" width="8" height="2" fill="#111"/><rect x="590" y="608.2" width="15" height="2" fill="#111"/><rect x="612" y="608.2" width="10" height="2" fill="#111"/><rect x="645" y="608.2" width="25" height="2" fill="#111"/>
<path d="M448.2 608.2L452.9 609.2L448.2 610.2ZM457.7 608.2L452.9 609.2L457.7 610.2Z" fill="#e8221a"/>
<path d="M373.6 611.8h5.4M389.9 611.8h4.5M401.9 611.8h3M414.9 611.8h4.4M429.9 611.8h4.1M444.6 611.8h3.8M459.3 611.8h5.2M472.9 611.8h4.6M487.6 611.8h3.6M500.5 611.8h5.4M513.5 611.8h5.4M529.1 611.8h5.5M542.6 611.8h3.3M556.7 611.8h5.4M570.8 611.8h3.3M581.2 611.8h4.9M593.9 611.8h5.9M609.3 611.8h3.6M622.8 611.8h4.1M638.5 611.8h5.7M653.3 611.8h4.9M668.4 611.8h5.4" stroke="#8a8a8a" stroke-width="0.9" fill="none"/>
<rect x="434.6" y="607.6" width="1.6" height="3.2" fill="#f01010"/>
<path d="M370.1 619.2L435.4 610.5L679.9 619.2" stroke="#222" stroke-width="0.75" fill="none"/>
<path d="M370.1 619.2H679.9" stroke="#666" stroke-width="0.5" fill="none"/>
<path d="M370.1 619.2l1.2 -0.9v1.8z M679.9 619.2l-1.2 -0.9v1.8z" fill="#222"/>
<path d="M384.6 625.4v1.8M413.8 625.4v1.8M443 625.4v1.8M472.2 625.4v1.8M501.4 625.4v1.8M530.6 625.4v1.8M559.8 625.4v1.8M589 625.4v1.8M618.2 625.4v1.8M647.4 625.4v1.8M676.6 625.4v1.8" stroke="#888" stroke-width="0.5" fill="none"/>
<path d="M410.3 623.1h7M468.7 623.1h7M527.1 623.1h7M585.5 623.1h7M643.9 623.1h7" stroke="#999" stroke-width="0.8" stroke-dasharray="1.4 0.5" fill="none"/>
<path d="M369.6 627.4H680.4" stroke="#bbb" stroke-width="0.6" fill="none"/>
<rect x="369.1" y="627" width="311.8" height="1.4" fill="#e6e6e6"/>
<path d="M370.1 630h5" stroke="#666" stroke-width="0.9" stroke-dasharray="1 0.8"/>

<rect x="510" y="660.9" width="1.1" height="4" fill="#3030ee" fill-opacity="0.85"/><rect x="527.5" y="660.7" width="1.1" height="4.2" fill="#ff6a6a" fill-opacity="0.85"/><rect x="565.8" y="658.7" width="1" height="6.2" fill="#ff6a6a" fill-opacity="0.85"/><rect x="396.5" y="658.4" width="0.8" height="6.5" fill="#3030ee" fill-opacity="0.85"/><rect x="676.4" y="654.9" width="1.2" height="10" fill="#3030ee" fill-opacity="0.85"/><rect x="417.5" y="663.4" width="0.8" height="1.5" fill="#ff6a6a" fill-opacity="0.85"/><rect x="427.7" y="662.6" width="1.1" height="2.3" fill="#ff6a6a" fill-opacity="0.85"/><rect x="506.3" y="657.9" width="1.2" height="7" fill="#ff6a6a" fill-opacity="0.85"/><rect x="524.9" y="660.1" width="1" height="4.8" fill="#ff6a6a" fill-opacity="0.85"/><rect x="681.3" y="654.9" width="1.2" height="10" fill="#3030ee" fill-opacity="0.85"/><rect x="467" y="662.6" width="0.8" height="2.3" fill="#ff6a6a" fill-opacity="0.85"/><rect x="608.6" y="661.9" width="1" height="3" fill="#3030ee" fill-opacity="0.85"/><rect x="668.8" y="657.8" width="0.9" height="7.1" fill="#ff6a6a" fill-opacity="0.85"/><rect x="653.8" y="661.5" width="1" height="3.4" fill="#3030ee" fill-opacity="0.85"/><rect x="390.9" y="660.4" width="1" height="4.5" fill="#3030ee" fill-opacity="0.85"/><rect x="395.4" y="662.2" width="1.3" height="2.7" fill="#3030ee" fill-opacity="0.85"/><rect x="405" y="662.6" width="0.8" height="2.3" fill="#ff6a6a" fill-opacity="0.85"/><rect x="618.3" y="662.8" width="1.1" height="2.1" fill="#ff2a2a" fill-opacity="0.85"/><rect x="427.9" y="659.5" width="1.2" height="5.4" fill="#ff6a6a" fill-opacity="0.85"/><rect x="404.6" y="661.8" width="1" height="3.1" fill="#ff6a6a" fill-opacity="0.85"/><rect x="672.9" y="658.5" width="1.3" height="6.4" fill="#ff6a6a" fill-opacity="0.85"/><rect x="434.2" y="661.9" width="1.2" height="3" fill="#3030ee" fill-opacity="0.85"/><rect x="399.5" y="654.9" width="1" height="10" fill="#ff6a6a" fill-opacity="0.85"/><rect x="610.6" y="662.2" width="0.8" height="2.7" fill="#ff6a6a" fill-opacity="0.85"/><rect x="396.3" y="660.8" width="1.2" height="4.1" fill="#ff6a6a" fill-opacity="0.85"/><rect x="484.7" y="661.6" width="1.1" height="3.3" fill="#3030ee" fill-opacity="0.85"/><rect x="548.4" y="657.4" width="0.9" height="7.5" fill="#ff6a6a" fill-opacity="0.85"/><rect x="653.2" y="658.3" width="0.9" height="6.6" fill="#ff6a6a" fill-opacity="0.85"/><rect x="600.2" y="654.9" width="1.4" height="10" fill="#ff6a6a" fill-opacity="0.85"/><rect x="645" y="660.6" width="0.9" height="4.3" fill="#ff6a6a" fill-opacity="0.85"/><rect x="380.2" y="654.9" width="1.2" height="10" fill="#ff6a6a" fill-opacity="0.85"/><rect x="448.7" y="658.2" width="1" height="6.7" fill="#ff2a2a" fill-opacity="0.85"/><rect x="423.1" y="659.6" width="0.9" height="5.3" fill="#ff6a6a" fill-opacity="0.85"/><rect x="543.6" y="657.7" width="1" height="7.2" fill="#ff2a2a" fill-opacity="0.85"/><rect x="656.1" y="662.7" width="1" height="2.2" fill="#ff6a6a" fill-opacity="0.85"/><rect x="508" y="663.2" width="1" height="1.7" fill="#ff6a6a" fill-opacity="0.85"/><rect x="547.7" y="663" width="1.3" height="1.9" fill="#ff6a6a" fill-opacity="0.85"/><rect x="675.9" y="660.2" width="1.2" height="4.7" fill="#3030ee" fill-opacity="0.85"/><rect x="412.1" y="663.3" width="1.3" height="1.6" fill="#ff6a6a" fill-opacity="0.85"/><rect x="588.1" y="654.9" width="1.2" height="10" fill="#ff6a6a" fill-opacity="0.85"/><rect x="519.4" y="659.5" width="1.4" height="5.4" fill="#ff6a6a" fill-opacity="0.85"/><rect x="391.6" y="661" width="1.3" height="3.9" fill="#3030ee" fill-opacity="0.85"/><rect x="599.4" y="659.8" width="1.3" height="5.1" fill="#3030ee" fill-opacity="0.85"/><rect x="478.5" y="659.9" width="1.3" height="5" fill="#3030ee" fill-opacity="0.85"/><rect x="499" y="658.7" width="1.1" height="6.2" fill="#3030ee" fill-opacity="0.85"/><rect x="564.2" y="662" width="1.2" height="2.9" fill="#ff2a2a" fill-opacity="0.85"/><rect x="393.2" y="660.3" width="1.3" height="4.6" fill="#3030ee" fill-opacity="0.85"/><rect x="596.7" y="661.9" width="1.1" height="3" fill="#3030ee" fill-opacity="0.85"/><rect x="506.3" y="657.9" width="1.3" height="7" fill="#ff6a6a" fill-opacity="0.85"/><rect x="377.4" y="660.6" width="0.9" height="4.3" fill="#ff6a6a" fill-opacity="0.85"/><rect x="587.3" y="661.3" width="1.4" height="3.6" fill="#ff2a2a" fill-opacity="0.85"/><rect x="448.3" y="663.4" width="1.2" height="1.5" fill="#ff6a6a" fill-opacity="0.85"/><rect x="431.6" y="662.8" width="1.2" height="2.1" fill="#3030ee" fill-opacity="0.85"/><rect x="506.8" y="656.7" width="1.2" height="8.2" fill="#ff6a6a" fill-opacity="0.85"/><rect x="430.3" y="661.7" width="1.3" height="3.2" fill="#3030ee" fill-opacity="0.85"/><rect x="644.4" y="661.9" width="1" height="3" fill="#ff2a2a" fill-opacity="0.85"/><rect x="410.8" y="661.3" width="1.3" height="3.6" fill="#3030ee" fill-opacity="0.85"/><rect x="591.3" y="654.9" width="0.9" height="10" fill="#ff6a6a" fill-opacity="0.85"/><rect x="509.5" y="662.4" width="1" height="2.5" fill="#ff6a6a" fill-opacity="0.85"/><rect x="564.5" y="661.4" width="1.3" height="3.5" fill="#ff6a6a" fill-opacity="0.85"/><rect x="676.4" y="661.6" width="0.8" height="3.3" fill="#ff6a6a" fill-opacity="0.85"/><rect x="642.1" y="663.3" width="1.1" height="1.6" fill="#3030ee" fill-opacity="0.85"/><rect x="465" y="658.7" width="0.9" height="6.2" fill="#ff6a6a" fill-opacity="0.85"/><rect x="510.8" y="663.3" width="0.9" height="1.6" fill="#3030ee" fill-opacity="0.85"/><rect x="412.2" y="663.3" width="1.1" height="1.6" fill="#ff2a2a" fill-opacity="0.85"/><rect x="565.8" y="660.2" width="1.4" height="4.7" fill="#3030ee" fill-opacity="0.85"/><rect x="582.9" y="662.7" width="0.9" height="2.2" fill="#ff6a6a" fill-opacity="0.85"/><rect x="371.4" y="661.5" width="0.9" height="3.4" fill="#3030ee" fill-opacity="0.85"/><rect x="453.5" y="662.1" width="1.1" height="2.8" fill="#3030ee" fill-opacity="0.85"/><rect x="560.9" y="659.2" width="1.3" height="5.7" fill="#ff6a6a" fill-opacity="0.85"/><rect x="652.6" y="663.1" width="1.2" height="1.8" fill="#3030ee" fill-opacity="0.85"/><rect x="408.8" y="661.6" width="1.3" height="3.3" fill="#ff2a2a" fill-opacity="0.85"/><rect x="486.3" y="660.9" width="1.3" height="4" fill="#3030ee" fill-opacity="0.85"/><rect x="664.5" y="661.5" width="0.9" height="3.4" fill="#3030ee" fill-opacity="0.85"/><rect x="594.7" y="658.3" width="1.2" height="6.6" fill="#ff2a2a" fill-opacity="0.85"/><rect x="435" y="656.5" width="1.4" height="8.4" fill="#3030ee" fill-opacity="0.85"/><rect x="536.6" y="658.7" width="1.3" height="6.2" fill="#ff6a6a" fill-opacity="0.85"/><rect x="636.7" y="662.1" width="1.1" height="2.8" fill="#ff6a6a" fill-opacity="0.85"/><rect x="540.8" y="659" width="0.8" height="5.9" fill="#ff6a6a" fill-opacity="0.85"/><rect x="622.1" y="663.2" width="0.9" height="1.7" fill="#3030ee" fill-opacity="0.85"/><rect x="473.2" y="658.7" width="0.9" height="6.2" fill="#ff6a6a" fill-opacity="0.85"/><rect x="530.2" y="659.5" width="1.2" height="5.4" fill="#3030ee" fill-opacity="0.85"/><rect x="665" y="661.4" width="0.9" height="3.5" fill="#3030ee" fill-opacity="0.85"/><rect x="437.5" y="661.2" width="1.2" height="3.7" fill="#ff6a6a" fill-opacity="0.85"/><rect x="568.6" y="661.2" width="1.1" height="3.7" fill="#3030ee" fill-opacity="0.85"/><rect x="465.9" y="662" width="1.3" height="2.9" fill="#3030ee" fill-opacity="0.85"/><rect x="433.4" y="657.7" width="1.1" height="7.2" fill="#3030ee" fill-opacity="0.85"/><rect x="547.9" y="662.7" width="1.1" height="2.2" fill="#ff6a6a" fill-opacity="0.85"/><rect x="558" y="663.3" width="1.1" height="1.6" fill="#3030ee" fill-opacity="0.85"/><rect x="493.8" y="658.6" width="1.1" height="6.3" fill="#ff2a2a" fill-opacity="0.85"/><rect x="585" y="663.2" width="1" height="1.7" fill="#ff6a6a" fill-opacity="0.85"/><rect x="668.5" y="655.7" width="1.1" height="9.2" fill="#ff6a6a" fill-opacity="0.85"/><rect x="407.9" y="661.7" width="1.3" height="3.2" fill="#3030ee" fill-opacity="0.85"/><rect x="517.6" y="662.3" width="1.2" height="2.6" fill="#ff6a6a" fill-opacity="0.85"/><rect x="658.5" y="663" width="0.8" height="1.9" fill="#3030ee" fill-opacity="0.85"/><rect x="428.9" y="662.6" width="1" height="2.3" fill="#3030ee" fill-opacity="0.85"/><rect x="479.6" y="660.5" width="1.2" height="4.4" fill="#ff6a6a" fill-opacity="0.85"/><rect x="406.6" y="661.3" width="0.9" height="3.6" fill="#ff6a6a" fill-opacity="0.85"/><rect x="534.5" y="661.7" width="1" height="3.2" fill="#ff6a6a" fill-opacity="0.85"/><rect x="534.2" y="662.9" width="1.2" height="2" fill="#ff6a6a" fill-opacity="0.85"/><rect x="568.5" y="661.1" width="1.2" height="3.8" fill="#3030ee" fill-opacity="0.85"/><rect x="637" y="662.6" width="1.3" height="2.3" fill="#3030ee" fill-opacity="0.85"/><rect x="651.4" y="662.3" width="1.4" height="2.6" fill="#ff6a6a" fill-opacity="0.85"/><rect x="436.5" y="654.9" width="0.9" height="10" fill="#3030ee" fill-opacity="0.85"/><rect x="443.2" y="659.5" width="0.9" height="5.4" fill="#ff6a6a" fill-opacity="0.85"/><rect x="629.3" y="661.8" width="0.9" height="3.1" fill="#3030ee" fill-opacity="0.85"/><rect x="494.5" y="659.9" width="0.9" height="5" fill="#ff6a6a" fill-opacity="0.85"/><rect x="582.3" y="656.1" width="0.9" height="8.8" fill="#3030ee" fill-opacity="0.85"/><rect x="526.8" y="659.1" width="1.2" height="5.8" fill="#ff6a6a" fill-opacity="0.85"/><rect x="427.3" y="663.2" width="0.8" height="1.7" fill="#ff6a6a" fill-opacity="0.85"/><rect x="541.2" y="661.2" width="0.9" height="3.7" fill="#ff2a2a" fill-opacity="0.85"/><rect x="425.9" y="662.7" width="1.4" height="2.2" fill="#3030ee" fill-opacity="0.85"/><rect x="659" y="663.1" width="1.4" height="1.8" fill="#ff6a6a" fill-opacity="0.85"/><rect x="513.1" y="659.1" width="1.1" height="5.8" fill="#ff6a6a" fill-opacity="0.85"/><rect x="529.8" y="661.7" width="0.8" height="3.2" fill="#ff2a2a" fill-opacity="0.85"/><rect x="588.1" y="657.8" width="1.1" height="7.1" fill="#ff6a6a" fill-opacity="0.85"/><rect x="600.2" y="661.8" width="0.9" height="3.1" fill="#ff6a6a" fill-opacity="0.85"/><rect x="528.9" y="663.4" width="1.3" height="1.5" fill="#3030ee" fill-opacity="0.85"/><rect x="589.3" y="657.5" width="1" height="7.4" fill="#ff2a2a" fill-opacity="0.85"/><rect x="556.3" y="661.3" width="1.3" height="3.6" fill="#3030ee" fill-opacity="0.85"/><rect x="387.2" y="647.9" width="1.1" height="17" fill="#ff3a3a"/><rect x="408.2" y="648.6" width="1.1" height="16.3" fill="#ff3a3a"/><rect x="447.2" y="635.5" width="1.1" height="29.4" fill="#ff3a3a"/><rect x="461.5" y="641.6" width="1.1" height="23.3" fill="#ff3a3a"/><rect x="543.7" y="630.8" width="1.1" height="34.1" fill="#ff3a3a"/><rect x="530.1" y="651.4" width="1.1" height="13.5" fill="#ff3a3a"/><rect x="548.4" y="653.3" width="1.1" height="11.6" fill="#ff3a3a"/><rect x="578.3" y="654.2" width="1.1" height="10.7" fill="#ff3a3a"/><rect x="585.3" y="651.4" width="1.1" height="13.5" fill="#ff3a3a"/><rect x="639.9" y="649.5" width="1.1" height="15.4" fill="#ff3a3a"/><rect x="634.8" y="654.2" width="1.1" height="10.7" fill="#ff3a3a"/><rect x="665.6" y="654.9" width="1.1" height="10" fill="#ff3a3a"/><rect x="427.6" y="653.3" width="1.1" height="11.6" fill="#2020ee"/><rect x="489.5" y="651.4" width="1.1" height="13.5" fill="#2020ee"/><rect x="525" y="649" width="1.1" height="15.9" fill="#2020ee"/><rect x="567" y="641.6" width="1.1" height="23.3" fill="#2020ee"/><rect x="565.2" y="647.9" width="1.1" height="17" fill="#2020ee"/><rect x="591.6" y="658.9" width="1.1" height="6" fill="#2020ee"/><rect x="377.8" y="660.3" width="1.1" height="4.6" fill="#ff3a3a"/><rect x="388.4" y="657.2" width="1.1" height="7.7" fill="#2020ee"/><rect x="392.6" y="656.8" width="1.1" height="8.1" fill="#ff3a3a"/><rect x="402.4" y="656" width="1.1" height="8.9" fill="#ff3a3a"/><rect x="405.9" y="654.2" width="1.1" height="10.7" fill="#ff3a3a"/><rect x="408.9" y="660.3" width="1.1" height="4.6" fill="#2020ee"/><rect x="418.3" y="661.2" width="1.1" height="3.7" fill="#ff3a3a"/><rect x="429.2" y="661.9" width="1.1" height="3" fill="#ff3a3a"/><rect x="435.1" y="659.6" width="1.1" height="5.3" fill="#ff3a3a"/><rect x="439.7" y="660.3" width="1.1" height="4.6" fill="#ff3a3a"/><rect x="449.1" y="646.7" width="1.1" height="18.2" fill="#ff3a3a"/><rect x="459.6" y="656" width="1.1" height="8.9" fill="#ff3a3a"/><rect x="477.1" y="656" width="1.1" height="8.9" fill="#ff3a3a"/><rect x="479.9" y="659.6" width="1.1" height="5.3" fill="#ff3a3a"/><rect x="487.6" y="657.2" width="1.1" height="7.7" fill="#ff3a3a"/><rect x="491.1" y="656" width="1.1" height="8.9" fill="#ff3a3a"/><rect x="499.3" y="661.9" width="1.1" height="3" fill="#ff3a3a"/><rect x="502.8" y="661.2" width="1.1" height="3.7" fill="#2020ee"/><rect x="509.8" y="654.9" width="1.1" height="10" fill="#ff3a3a"/><rect x="514" y="652.6" width="1.1" height="12.3" fill="#ff3a3a"/><rect x="519.2" y="657.2" width="1.1" height="7.7" fill="#ff3a3a"/><rect x="596" y="660" width="1.1" height="4.9" fill="#ff3a3a"/><rect x="610" y="662" width="1.1" height="2.9" fill="#2020ee"/><rect x="620" y="661" width="1.1" height="3.9" fill="#ff3a3a"/><rect x="648" y="660" width="1.1" height="4.9" fill="#2020ee"/><rect x="655" y="659" width="1.1" height="5.9" fill="#ff3a3a"/><rect x="672" y="661" width="1.1" height="3.9" fill="#ff3a3a"/><rect x="676" y="658" width="1.1" height="6.9" fill="#2020ee"/>
<path d="M369.1 665.2H680.9" stroke="#f07070" stroke-width="0.6" fill="none"/>
<rect x="369.1" y="665.5" width="311.8" height="1.5" fill="#f4f4f4"/>
<path d="M370.6 669.6H679.4" stroke="#5050ea" stroke-width="0.5" fill="none"/>
<path d="M372.6 669.6H679.4" stroke="#3030e0" stroke-width="1.2" stroke-dasharray="0.8 4.6" fill="none"/>
<rect x="372" y="668.4" width="1.5" height="2.4" fill="#1a10e8"/>
<rect x="431" y="668.4" width="1.5" height="2.4" fill="#1a10e8"/>
<rect x="468" y="668.4" width="1.5" height="2.4" fill="#1a10e8"/>
<rect x="520" y="668.4" width="1.5" height="2.4" fill="#1a10e8"/>
<rect x="563" y="668.4" width="1.5" height="2.4" fill="#1a10e8"/>
<rect x="600" y="668.4" width="1.5" height="2.4" fill="#1a10e8"/>
<rect x="618" y="668.4" width="1.5" height="2.4" fill="#1a10e8"/>
<rect x="628" y="668.4" width="1.5" height="2.4" fill="#1a10e8"/>
<rect x="632" y="668.4" width="1.5" height="2.4" fill="#1a10e8"/>
<rect x="655" y="668.4" width="1.5" height="2.4" fill="#1a10e8"/>
<rect x="660" y="668.4" width="1.5" height="2.4" fill="#1a10e8"/>
<rect x="664" y="668.4" width="1.5" height="2.4" fill="#1a10e8"/>
<rect x="674" y="668.4" width="1.5" height="2.4" fill="#1a10e8"/>
<text x="388.8" y="674.8" font-size="4.4" fill="#1a1a1a">OSMR-DT</text>
<text x="483" y="674.8" font-size="4.4" fill="#1a1a1a">OSMR</text>
<text x="530.1" y="674.8" font-size="4.4" fill="#1a1a1a">OSMR</text>
<text x="549.5" y="674.8" font-size="4.4" fill="#1a1a1a">OSMR</text>
<text x="579.9" y="674.8" font-size="4.4" fill="#1a1a1a">OSMR</text>
<rect x="428.8" y="667.3" width="220" height="9.3" fill="none" stroke="#3c28e6" stroke-width="1.3"/>
<rect x="366.6" y="604.2" width="316.8" height="73.1" fill="none" stroke="#2a2a2a" stroke-width="1.6"/>
<text x="371.2" y="602.2" font-size="10.5" fill="#111">chr5:38,824,196-38,932,908</text>
<text transform="translate(362.6 639.4) rotate(-90)" text-anchor="middle" font-size="12.5" fill="#111">OSMR</text>
<rect x="366.6" y="690.3" width="316.8" height="94" fill="#fff"/>
<rect x="366.6" y="719.5" width="316.8" height="64.8" fill="#f8f8f8"/>
<path d="M368.8 691.3V783.3" stroke="#c8c8c8" stroke-width="0.6"/>
<path d="M369.8 693.1h25" stroke="#777" stroke-width="1.3" stroke-dasharray="1.2 0.5"/>
<rect x="369.6" y="695.5" width="310.8" height="2.4" fill="#fff" stroke="#777" stroke-width="0.5"/>
<rect x="367.3" y="695.5" width="4.7" height="2.4" fill="#999"/><rect x="379" y="695.5" width="9.4" height="2.4" fill="#999"/><rect x="423.4" y="695.5" width="9.3" height="2.4" fill="#999"/><rect x="440.2" y="695.5" width="26.4" height="2.4" fill="#111"/><rect x="477.1" y="695.5" width="18.7" height="2.4" fill="#111"/><rect x="497" y="695.5" width="8.2" height="2.4" fill="#999"/><rect x="530.8" y="695.5" width="17.6" height="2.4" fill="#111"/><rect x="554.2" y="695.5" width="9.3" height="2.4" fill="#111"/><rect x="568.2" y="695.5" width="8.2" height="2.4" fill="#999"/><rect x="584.6" y="695.5" width="8.1" height="2.4" fill="#999"/><rect x="604.4" y="695.5" width="18.7" height="2.4" fill="#111"/><rect x="632.5" y="695.5" width="12.8" height="2.4" fill="#111"/><rect x="652.3" y="695.5" width="4.7" height="2.4" fill="#999"/><rect x="671" y="695.5" width="10.5" height="2.4" fill="#999"/>
<path d="M400 695.5L405.2 696.7L400 697.9ZM410.5 695.5L405.2 696.7L410.5 697.9Z" fill="#e8221a"/>
<path d="M373.6 699.5h4M384.5 699.5h5M395.9 699.5h4.6M408.7 699.5h3.2M420.9 699.5h3.1M432.6 699.5h3.2M442.4 699.5h4.3M457.6 699.5h3.4M468.3 699.5h4.9M484.9 699.5h4.7M498 699.5h5.9M510.2 699.5h5.6M523.5 699.5h3.4M533.6 699.5h3.9M548.5 699.5h3.5M561.5 699.5h4.9M574.6 699.5h4.6M585.7 699.5h3.2M596.1 699.5h5M609.7 699.5h3.9M623.1 699.5h4.4M635.3 699.5h5.4M650.9 699.5h3.7M664.1 699.5h4.6" stroke="#8a8a8a" stroke-width="0.9" fill="none"/>
<rect x="512.5" y="694.9" width="1.6" height="3.6" fill="#f01010"/>
<path d="M370.1 709.9L513.3 698.2L679.9 709.9" stroke="#222" stroke-width="0.75" fill="none"/>
<path d="M370.1 709.9H679.9" stroke="#666" stroke-width="0.5" fill="none"/>
<path d="M370.1 709.9l1.2 -0.9v1.8z M679.9 709.9l-1.2 -0.9v1.8z" fill="#222"/>
<rect x="483.5" y="708.4" width="9" height="3" fill="#fff"/><path d="M484 709.9h8" stroke="#444" stroke-width="1" stroke-dasharray="1.3 0.4"/>
<path d="M367.6 717.9v1.8M432 717.9v1.8M496.4 717.9v1.8M560.8 717.9v1.8M625.2 717.9v1.8" stroke="#888" stroke-width="0.5" fill="none"/>
<path d="M364.1 715.6h7M492.9 715.6h7M621.7 715.6h7" stroke="#999" stroke-width="0.8" stroke-dasharray="1.4 0.5" fill="none"/>
<path d="M369.6 719.9H680.4" stroke="#bbb" stroke-width="0.6" fill="none"/>
<rect x="369.1" y="719.5" width="311.8" height="1.4" fill="#e6e6e6"/>
<path d="M370.1 723.3h5" stroke="#666" stroke-width="0.9" stroke-dasharray="1 0.8"/>

<rect x="517" y="763.3" width="0.8" height="6.9" fill="#3030ee" fill-opacity="0.85"/><rect x="371.4" y="766.4" width="1" height="3.8" fill="#ff6a6a" fill-opacity="0.85"/><rect x="584.8" y="764.1" width="1" height="6.1" fill="#ff2a2a" fill-opacity="0.85"/><rect x="413.6" y="765.8" width="1.1" height="4.4" fill="#ff6a6a" fill-opacity="0.85"/><rect x="386.5" y="760.2" width="1" height="10" fill="#ff6a6a" fill-opacity="0.85"/><rect x="473.8" y="766.1" width="0.7" height="4.1" fill="#3030ee" fill-opacity="0.85"/><rect x="387.1" y="756.4" width="0.7" height="13.8" fill="#ff6a6a" fill-opacity="0.85"/><rect x="678" y="754" width="0.9" height="16.2" fill="#ff6a6a" fill-opacity="0.85"/><rect x="410.4" y="766.8" width="0.8" height="3.4" fill="#ff2a2a" fill-opacity="0.85"/><rect x="586.8" y="768.4" width="1" height="1.8" fill="#ff6a6a" fill-opacity="0.85"/><rect x="493.8" y="766" width="0.9" height="4.2" fill="#ff2a2a" fill-opacity="0.85"/><rect x="488.8" y="768.5" width="1.1" height="1.7" fill="#3030ee" fill-opacity="0.85"/><rect x="674.6" y="763.3" width="0.8" height="6.9" fill="#ff6a6a" fill-opacity="0.85"/><rect x="584.7" y="763.1" width="0.8" height="7.1" fill="#ff6a6a" fill-opacity="0.85"/><rect x="482.1" y="765.1" width="0.9" height="5.1" fill="#3030ee" fill-opacity="0.85"/><rect x="376.8" y="760.1" width="0.9" height="10.1" fill="#ff6a6a" fill-opacity="0.85"/><rect x="437.8" y="765.9" width="1" height="4.3" fill="#ff6a6a" fill-opacity="0.85"/><rect x="400.2" y="764.7" width="1" height="5.5" fill="#ff6a6a" fill-opacity="0.85"/><rect x="379.6" y="767.1" width="1" height="3.1" fill="#ff6a6a" fill-opacity="0.85"/><rect x="384.3" y="765.6" width="0.8" height="4.6" fill="#ff6a6a" fill-opacity="0.85"/><rect x="517.5" y="752.8" width="1.1" height="17.4" fill="#ff6a6a" fill-opacity="0.85"/><rect x="420.6" y="755.8" width="0.8" height="14.4" fill="#ff6a6a" fill-opacity="0.85"/><rect x="603" y="756.5" width="0.8" height="13.7" fill="#ff6a6a" fill-opacity="0.85"/><rect x="610" y="766.6" width="0.7" height="3.6" fill="#ff6a6a" fill-opacity="0.85"/><rect x="380.6" y="763.9" width="1.1" height="6.3" fill="#3030ee" fill-opacity="0.85"/><rect x="526.1" y="768.6" width="1" height="1.6" fill="#ff6a6a" fill-opacity="0.85"/><rect x="629.2" y="763.6" width="0.9" height="6.6" fill="#ff6a6a" fill-opacity="0.85"/><rect x="517.9" y="763.8" width="1.1" height="6.4" fill="#ff6a6a" fill-opacity="0.85"/><rect x="648.8" y="767.8" width="1" height="2.4" fill="#ff6a6a" fill-opacity="0.85"/><rect x="455.4" y="754.3" width="1" height="15.9" fill="#ff6a6a" fill-opacity="0.85"/><rect x="589.3" y="767.5" width="0.8" height="2.7" fill="#ff6a6a" fill-opacity="0.85"/><rect x="582.6" y="762.8" width="1.1" height="7.4" fill="#ff6a6a" fill-opacity="0.85"/><rect x="500" y="767.3" width="1.1" height="2.9" fill="#ff6a6a" fill-opacity="0.85"/><rect x="543.8" y="763.8" width="1.1" height="6.4" fill="#3030ee" fill-opacity="0.85"/><rect x="606.8" y="766" width="1.1" height="4.2" fill="#ff2a2a" fill-opacity="0.85"/><rect x="615.8" y="764.4" width="0.8" height="5.8" fill="#ff6a6a" fill-opacity="0.85"/><rect x="599.1" y="764.6" width="1" height="5.6" fill="#ff6a6a" fill-opacity="0.85"/><rect x="651.8" y="760.7" width="1.1" height="9.5" fill="#3030ee" fill-opacity="0.85"/><rect x="536" y="760.9" width="0.7" height="9.3" fill="#ff6a6a" fill-opacity="0.85"/><rect x="478.9" y="766.8" width="1" height="3.4" fill="#3030ee" fill-opacity="0.85"/><rect x="538.1" y="763.8" width="0.9" height="6.4" fill="#ff6a6a" fill-opacity="0.85"/><rect x="588" y="766.2" width="0.9" height="4" fill="#ff6a6a" fill-opacity="0.85"/><rect x="469.6" y="762.9" width="0.7" height="7.3" fill="#ff6a6a" fill-opacity="0.85"/><rect x="466.1" y="762.8" width="1" height="7.4" fill="#3030ee" fill-opacity="0.85"/><rect x="661.5" y="766.4" width="0.9" height="3.8" fill="#ff6a6a" fill-opacity="0.85"/><rect x="507.3" y="767.7" width="0.8" height="2.5" fill="#3030ee" fill-opacity="0.85"/><rect x="442.8" y="766.7" width="0.7" height="3.5" fill="#3030ee" fill-opacity="0.85"/><rect x="481.1" y="767.1" width="0.9" height="3.1" fill="#ff6a6a" fill-opacity="0.85"/><rect x="437.2" y="756.1" width="1" height="14.1" fill="#ff6a6a" fill-opacity="0.85"/><rect x="419" y="765.6" width="1" height="4.6" fill="#ff2a2a" fill-opacity="0.85"/><rect x="446.5" y="765.6" width="1" height="4.6" fill="#3030ee" fill-opacity="0.85"/><rect x="439.4" y="764.8" width="0.9" height="5.4" fill="#3030ee" fill-opacity="0.85"/><rect x="579.4" y="763.3" width="0.9" height="6.9" fill="#3030ee" fill-opacity="0.85"/><rect x="581.8" y="766.5" width="0.8" height="3.7" fill="#3030ee" fill-opacity="0.85"/><rect x="525" y="766.5" width="0.8" height="3.7" fill="#ff6a6a" fill-opacity="0.85"/><rect x="438.9" y="764.8" width="0.7" height="5.4" fill="#ff6a6a" fill-opacity="0.85"/><rect x="620.3" y="767" width="0.9" height="3.2" fill="#3030ee" fill-opacity="0.85"/><rect x="490.2" y="758.4" width="0.8" height="11.8" fill="#3030ee" fill-opacity="0.85"/><rect x="407.5" y="763.6" width="0.9" height="6.6" fill="#3030ee" fill-opacity="0.85"/><rect x="614.3" y="766" width="0.8" height="4.2" fill="#ff2a2a" fill-opacity="0.85"/><rect x="495.8" y="766.3" width="0.9" height="3.9" fill="#ff6a6a" fill-opacity="0.85"/><rect x="621.5" y="767.8" width="0.8" height="2.4" fill="#ff6a6a" fill-opacity="0.85"/><rect x="672.9" y="765" width="1" height="5.2" fill="#ff6a6a" fill-opacity="0.85"/><rect x="642.3" y="760.1" width="1" height="10.1" fill="#ff6a6a" fill-opacity="0.85"/><rect x="463.9" y="768" width="1" height="2.2" fill="#3030ee" fill-opacity="0.85"/><rect x="434.3" y="758.1" width="0.8" height="12.1" fill="#ff6a6a" fill-opacity="0.85"/><rect x="372.1" y="767.8" width="1" height="2.4" fill="#ff6a6a" fill-opacity="0.85"/><rect x="461.1" y="767.6" width="0.8" height="2.6" fill="#ff6a6a" fill-opacity="0.85"/><rect x="638.7" y="764" width="1" height="6.2" fill="#ff6a6a" fill-opacity="0.85"/><rect x="536.4" y="765.7" width="1" height="4.5" fill="#ff6a6a" fill-opacity="0.85"/><rect x="619.4" y="765.2" width="0.9" height="5" fill="#ff2a2a" fill-opacity="0.85"/><rect x="567.1" y="766.2" width="0.9" height="4" fill="#ff6a6a" fill-opacity="0.85"/><rect x="592.5" y="767.1" width="0.9" height="3.1" fill="#3030ee" fill-opacity="0.85"/><rect x="636.6" y="762.8" width="1" height="7.4" fill="#3030ee" fill-opacity="0.85"/><rect x="502" y="766.1" width="1" height="4.1" fill="#ff2a2a" fill-opacity="0.85"/><rect x="631.5" y="768" width="0.7" height="2.2" fill="#ff6a6a" fill-opacity="0.85"/><rect x="394.5" y="768.4" width="0.8" height="1.8" fill="#ff6a6a" fill-opacity="0.85"/><rect x="403.5" y="762.9" width="1.1" height="7.3" fill="#ff2a2a" fill-opacity="0.85"/><rect x="669.6" y="761.8" width="0.7" height="8.4" fill="#3030ee" fill-opacity="0.85"/><rect x="439.6" y="755.7" width="0.8" height="14.5" fill="#ff6a6a" fill-opacity="0.85"/><rect x="605.6" y="765.9" width="0.8" height="4.3" fill="#ff6a6a" fill-opacity="0.85"/><rect x="443.9" y="768.2" width="1.1" height="2" fill="#ff2a2a" fill-opacity="0.85"/><rect x="677.8" y="761.5" width="0.8" height="8.7" fill="#3030ee" fill-opacity="0.85"/><rect x="461.6" y="755.8" width="1" height="14.4" fill="#ff2a2a" fill-opacity="0.85"/><rect x="371.9" y="767.4" width="1" height="2.8" fill="#ff6a6a" fill-opacity="0.85"/><rect x="627.3" y="761.6" width="0.9" height="8.6" fill="#ff6a6a" fill-opacity="0.85"/><rect x="638.8" y="750.2" width="0.8" height="20" fill="#ff6a6a" fill-opacity="0.85"/><rect x="564.1" y="764.9" width="0.8" height="5.3" fill="#ff6a6a" fill-opacity="0.85"/><rect x="489" y="764" width="0.9" height="6.2" fill="#ff6a6a" fill-opacity="0.85"/><rect x="667" y="761.9" width="0.9" height="8.3" fill="#ff6a6a" fill-opacity="0.85"/><rect x="400.1" y="762" width="0.8" height="8.2" fill="#ff2a2a" fill-opacity="0.85"/><rect x="540.1" y="764.2" width="0.9" height="6" fill="#ff2a2a" fill-opacity="0.85"/><rect x="465.3" y="766.5" width="0.8" height="3.7" fill="#3030ee" fill-opacity="0.85"/><rect x="525.8" y="765.6" width="0.9" height="4.6" fill="#ff6a6a" fill-opacity="0.85"/><rect x="432.4" y="766.8" width="0.8" height="3.4" fill="#ff6a6a" fill-opacity="0.85"/><rect x="662.5" y="766.9" width="1" height="3.3" fill="#ff6a6a" fill-opacity="0.85"/><rect x="492.7" y="765.1" width="0.7" height="5.1" fill="#ff2a2a" fill-opacity="0.85"/><rect x="578.9" y="768.2" width="1" height="2" fill="#ff6a6a" fill-opacity="0.85"/><rect x="678.7" y="763.1" width="0.9" height="7.1" fill="#ff6a6a" fill-opacity="0.85"/><rect x="456.7" y="759.5" width="0.8" height="10.7" fill="#ff6a6a" fill-opacity="0.85"/><rect x="568.4" y="763.6" width="0.9" height="6.6" fill="#ff2a2a" fill-opacity="0.85"/><rect x="669.1" y="765.6" width="0.9" height="4.6" fill="#3030ee" fill-opacity="0.85"/><rect x="514.1" y="766.5" width="1" height="3.7" fill="#3030ee" fill-opacity="0.85"/><rect x="443.1" y="765" width="0.9" height="5.2" fill="#3030ee" fill-opacity="0.85"/><rect x="576" y="763.9" width="0.8" height="6.3" fill="#3030ee" fill-opacity="0.85"/><rect x="464.3" y="768.6" width="1" height="1.6" fill="#3030ee" fill-opacity="0.85"/><rect x="490.5" y="751.6" width="0.8" height="18.6" fill="#3030ee" fill-opacity="0.85"/><rect x="630.7" y="766" width="0.8" height="4.2" fill="#ff6a6a" fill-opacity="0.85"/><rect x="497.9" y="768.4" width="0.7" height="1.8" fill="#ff6a6a" fill-opacity="0.85"/><rect x="464.5" y="767.8" width="1" height="2.4" fill="#ff6a6a" fill-opacity="0.85"/><rect x="487.2" y="765.3" width="1.1" height="4.9" fill="#ff2a2a" fill-opacity="0.85"/><rect x="413.9" y="767.4" width="1.1" height="2.8" fill="#3030ee" fill-opacity="0.85"/><rect x="660.6" y="764.9" width="0.8" height="5.3" fill="#ff6a6a" fill-opacity="0.85"/><rect x="653.9" y="761.5" width="1" height="8.7" fill="#ff2a2a" fill-opacity="0.85"/><rect x="449.9" y="764.9" width="0.7" height="5.3" fill="#3030ee" fill-opacity="0.85"/><rect x="561.9" y="767.7" width="1" height="2.5" fill="#3030ee" fill-opacity="0.85"/><rect x="570.2" y="765.8" width="0.9" height="4.4" fill="#ff6a6a" fill-opacity="0.85"/><rect x="480.8" y="766.1" width="1.1" height="4.1" fill="#ff6a6a" fill-opacity="0.85"/><rect x="531.9" y="764.6" width="1.1" height="5.6" fill="#3030ee" fill-opacity="0.85"/><rect x="540.6" y="764.8" width="0.8" height="5.4" fill="#3030ee" fill-opacity="0.85"/><rect x="650.7" y="768.6" width="0.9" height="1.6" fill="#3030ee" fill-opacity="0.85"/><rect x="563.4" y="750.2" width="0.9" height="20" fill="#ff6a6a" fill-opacity="0.85"/><rect x="619.1" y="761.8" width="1" height="8.4" fill="#ff6a6a" fill-opacity="0.85"/><rect x="580.7" y="758.5" width="0.8" height="11.7" fill="#3030ee" fill-opacity="0.85"/><rect x="458.1" y="768.3" width="0.7" height="1.9" fill="#ff6a6a" fill-opacity="0.85"/><rect x="674.3" y="767.9" width="0.8" height="2.3" fill="#ff2a2a" fill-opacity="0.85"/><rect x="671.4" y="764.9" width="1" height="5.3" fill="#ff6a6a" fill-opacity="0.85"/><rect x="638.1" y="750.2" width="0.9" height="20" fill="#ff6a6a" fill-opacity="0.85"/><rect x="575.5" y="767" width="1" height="3.2" fill="#ff2a2a" fill-opacity="0.85"/><rect x="604" y="760" width="0.8" height="10.2" fill="#3030ee" fill-opacity="0.85"/><rect x="605.2" y="765.9" width="0.7" height="4.3" fill="#ff6a6a" fill-opacity="0.85"/><rect x="563.4" y="766.5" width="0.9" height="3.7" fill="#ff6a6a" fill-opacity="0.85"/><rect x="498.3" y="766.7" width="0.9" height="3.5" fill="#ff2a2a" fill-opacity="0.85"/><rect x="534.4" y="750.2" width="0.8" height="20" fill="#3030ee" fill-opacity="0.85"/><rect x="641.8" y="766.8" width="0.7" height="3.4" fill="#3030ee" fill-opacity="0.85"/><rect x="467.9" y="755.3" width="1" height="14.9" fill="#3030ee" fill-opacity="0.85"/><rect x="432.2" y="768.1" width="0.7" height="2.1" fill="#3030ee" fill-opacity="0.85"/><rect x="423.1" y="765.9" width="1" height="4.3" fill="#3030ee" fill-opacity="0.85"/><rect x="681.5" y="761.1" width="1.1" height="9.1" fill="#ff6a6a" fill-opacity="0.85"/><rect x="467.4" y="768.4" width="1.1" height="1.8" fill="#3030ee" fill-opacity="0.85"/><rect x="575.3" y="765.4" width="0.8" height="4.8" fill="#ff6a6a" fill-opacity="0.85"/><rect x="389.2" y="768.2" width="1.1" height="2" fill="#ff6a6a" fill-opacity="0.85"/><rect x="660.7" y="765.1" width="0.9" height="5.1" fill="#3030ee" fill-opacity="0.85"/><rect x="611.7" y="762.6" width="1" height="7.6" fill="#3030ee" fill-opacity="0.85"/><rect x="580.9" y="764.2" width="0.9" height="6" fill="#ff6a6a" fill-opacity="0.85"/><rect x="508.6" y="767.9" width="0.9" height="2.3" fill="#ff6a6a" fill-opacity="0.85"/><rect x="423.2" y="763.8" width="1.1" height="6.4" fill="#ff6a6a" fill-opacity="0.85"/><rect x="582.8" y="765.1" width="0.9" height="5.1" fill="#ff6a6a" fill-opacity="0.85"/><rect x="430.9" y="752.2" width="1" height="18" fill="#3030ee" fill-opacity="0.85"/><rect x="572.1" y="767.9" width="0.8" height="2.3" fill="#ff6a6a" fill-opacity="0.85"/><rect x="469.8" y="764.3" width="0.8" height="5.9" fill="#ff6a6a" fill-opacity="0.85"/><rect x="597.4" y="765.4" width="0.8" height="4.8" fill="#3030ee" fill-opacity="0.85"/><rect x="395.8" y="754.8" width="1" height="15.4" fill="#ff2a2a" fill-opacity="0.85"/><rect x="542.7" y="767.9" width="0.9" height="2.3" fill="#3030ee" fill-opacity="0.85"/><rect x="653.5" y="767.9" width="0.9" height="2.3" fill="#ff6a6a" fill-opacity="0.85"/><rect x="445.7" y="758.9" width="0.7" height="11.3" fill="#ff6a6a" fill-opacity="0.85"/><rect x="419.2" y="767.1" width="1.1" height="3.1" fill="#3030ee" fill-opacity="0.85"/><rect x="578.3" y="765.9" width="1" height="4.3" fill="#ff6a6a" fill-opacity="0.85"/><rect x="407.6" y="767.6" width="1" height="2.6" fill="#ff6a6a" fill-opacity="0.85"/><rect x="425.4" y="768.4" width="0.7" height="1.8" fill="#3030ee" fill-opacity="0.85"/><rect x="598.6" y="767.9" width="0.8" height="2.3" fill="#ff6a6a" fill-opacity="0.85"/><rect x="505.8" y="756" width="0.9" height="14.2" fill="#3030ee" fill-opacity="0.85"/><rect x="395.5" y="767.7" width="1" height="2.5" fill="#ff6a6a" fill-opacity="0.85"/><rect x="655.6" y="768.6" width="1.1" height="1.6" fill="#ff6a6a" fill-opacity="0.85"/><rect x="415.4" y="768.3" width="1.1" height="1.9" fill="#ff6a6a" fill-opacity="0.85"/><rect x="450.6" y="762.3" width="1" height="7.9" fill="#ff6a6a" fill-opacity="0.85"/><rect x="421.1" y="764.2" width="1.1" height="6" fill="#3030ee" fill-opacity="0.85"/><rect x="504.9" y="750.2" width="1.1" height="20" fill="#ff6a6a" fill-opacity="0.85"/><rect x="655" y="750.2" width="0.8" height="20" fill="#ff6a6a" fill-opacity="0.85"/><rect x="586.6" y="757.9" width="1" height="12.3" fill="#ff6a6a" fill-opacity="0.85"/><rect x="517.8" y="768.7" width="0.7" height="1.5" fill="#ff6a6a" fill-opacity="0.85"/><rect x="439.8" y="755.2" width="1" height="15" fill="#3030ee" fill-opacity="0.85"/><rect x="655.7" y="766.2" width="1" height="4" fill="#3030ee" fill-opacity="0.85"/><rect x="585.3" y="768.2" width="0.8" height="2" fill="#3030ee" fill-opacity="0.85"/><rect x="507.8" y="762.9" width="1" height="7.3" fill="#3030ee" fill-opacity="0.85"/><rect x="466.1" y="766.9" width="0.7" height="3.3" fill="#3030ee" fill-opacity="0.85"/><rect x="642.3" y="766.8" width="0.8" height="3.4" fill="#ff6a6a" fill-opacity="0.85"/><rect x="592.1" y="767.7" width="0.7" height="2.5" fill="#ff6a6a" fill-opacity="0.85"/><rect x="409.1" y="763.8" width="0.7" height="6.4" fill="#3030ee" fill-opacity="0.85"/><rect x="513.2" y="766.5" width="0.8" height="3.7" fill="#ff6a6a" fill-opacity="0.85"/><rect x="401.9" y="765.9" width="0.7" height="4.3" fill="#ff6a6a" fill-opacity="0.85"/><rect x="410.3" y="755.5" width="1.1" height="14.7" fill="#3030ee" fill-opacity="0.85"/><rect x="623.6" y="762" width="0.7" height="8.2" fill="#ff6a6a" fill-opacity="0.85"/><rect x="677" y="762.9" width="0.8" height="7.3" fill="#3030ee" fill-opacity="0.85"/><rect x="616.6" y="764.9" width="0.8" height="5.3" fill="#ff6a6a" fill-opacity="0.85"/><rect x="671.8" y="763.8" width="0.7" height="6.4" fill="#ff6a6a" fill-opacity="0.85"/><rect x="603.6" y="766.5" width="0.8" height="3.7" fill="#ff6a6a" fill-opacity="0.85"/><rect x="424" y="765.3" width="0.8" height="4.9" fill="#ff6a6a" fill-opacity="0.85"/><rect x="415.3" y="765.8" width="0.7" height="4.4" fill="#ff6a6a" fill-opacity="0.85"/><rect x="516.7" y="768.4" width="1" height="1.8" fill="#3030ee" fill-opacity="0.85"/><rect x="589.5" y="753.6" width="0.9" height="16.6" fill="#ff6a6a" fill-opacity="0.85"/><rect x="498.3" y="768.3" width="0.7" height="1.9" fill="#3030ee" fill-opacity="0.85"/><rect x="676.7" y="763.1" width="0.7" height="7.1" fill="#3030ee" fill-opacity="0.85"/><rect x="648.6" y="752.1" width="0.9" height="18.1" fill="#3030ee" fill-opacity="0.85"/><rect x="571.6" y="765.4" width="0.9" height="4.8" fill="#3030ee" fill-opacity="0.85"/><rect x="539.9" y="766.1" width="0.9" height="4.1" fill="#ff2a2a" fill-opacity="0.85"/><rect x="663.2" y="761.3" width="1" height="8.9" fill="#ff6a6a" fill-opacity="0.85"/><rect x="441.4" y="765.4" width="1" height="4.8" fill="#ff6a6a" fill-opacity="0.85"/><rect x="390.8" y="767.9" width="0.9" height="2.3" fill="#ff6a6a" fill-opacity="0.85"/><rect x="421.5" y="764.6" width="0.9" height="5.6" fill="#3030ee" fill-opacity="0.85"/><rect x="438.2" y="764.2" width="0.9" height="6" fill="#ff6a6a" fill-opacity="0.85"/><rect x="424" y="763" width="1.1" height="7.2" fill="#ff6a6a" fill-opacity="0.85"/><rect x="523.9" y="763" width="1.1" height="7.2" fill="#3030ee" fill-opacity="0.85"/><rect x="374.7" y="755.6" width="1.1" height="14.6" fill="#ff6a6a" fill-opacity="0.85"/><rect x="615.7" y="767.2" width="0.9" height="3" fill="#3030ee" fill-opacity="0.85"/><rect x="510" y="763.8" width="1" height="6.4" fill="#ff6a6a" fill-opacity="0.85"/><rect x="586.3" y="768.7" width="1" height="1.5" fill="#ff2a2a" fill-opacity="0.85"/><rect x="640.1" y="764.9" width="0.8" height="5.3" fill="#ff6a6a" fill-opacity="0.85"/><rect x="429.5" y="757.4" width="1.1" height="12.8" fill="#ff6a6a" fill-opacity="0.85"/><rect x="406.8" y="766.3" width="0.7" height="3.9" fill="#ff2a2a" fill-opacity="0.85"/><rect x="508.4" y="760.7" width="0.8" height="9.5" fill="#ff6a6a" fill-opacity="0.85"/><rect x="386.7" y="753.9" width="1" height="16.3" fill="#ff6a6a" fill-opacity="0.85"/><rect x="568.2" y="767.1" width="1" height="3.1" fill="#ff2a2a" fill-opacity="0.85"/><rect x="433.3" y="767.3" width="0.8" height="2.9" fill="#3030ee" fill-opacity="0.85"/><rect x="521.4" y="765.7" width="1" height="4.5" fill="#3030ee" fill-opacity="0.85"/><rect x="607.8" y="763.8" width="0.7" height="6.4" fill="#ff6a6a" fill-opacity="0.85"/><rect x="548.3" y="765.9" width="0.9" height="4.3" fill="#3030ee" fill-opacity="0.85"/><rect x="406.3" y="766.3" width="0.9" height="3.9" fill="#3030ee" fill-opacity="0.85"/><rect x="577.9" y="768.4" width="0.8" height="1.8" fill="#ff6a6a" fill-opacity="0.85"/><rect x="520.1" y="768.1" width="0.8" height="2.1" fill="#3030ee" fill-opacity="0.85"/><rect x="368.3" y="767.3" width="0.9" height="2.9" fill="#ff6a6a" fill-opacity="0.85"/><rect x="623.8" y="768.2" width="1" height="2" fill="#3030ee" fill-opacity="0.85"/><rect x="529.6" y="763.5" width="0.8" height="6.7" fill="#ff6a6a" fill-opacity="0.85"/><rect x="371.2" y="752.4" width="0.9" height="17.8" fill="#3030ee" fill-opacity="0.85"/><rect x="557" y="765.5" width="0.7" height="4.7" fill="#3030ee" fill-opacity="0.85"/><rect x="604.8" y="767.7" width="0.9" height="2.5" fill="#ff2a2a" fill-opacity="0.85"/><rect x="634.2" y="763.9" width="1" height="6.3" fill="#ff6a6a" fill-opacity="0.85"/><rect x="485.5" y="764.6" width="1.1" height="5.6" fill="#3030ee" fill-opacity="0.85"/><rect x="400.7" y="765.7" width="1" height="4.5" fill="#ff6a6a" fill-opacity="0.85"/><rect x="492.9" y="756.6" width="0.9" height="13.6" fill="#3030ee" fill-opacity="0.85"/><rect x="607.7" y="763" width="0.8" height="7.2" fill="#ff6a6a" fill-opacity="0.85"/><rect x="410.6" y="759.8" width="0.8" height="10.4" fill="#ff6a6a" fill-opacity="0.85"/><rect x="593.2" y="750.2" width="1" height="20" fill="#ff6a6a" fill-opacity="0.85"/><rect x="439.7" y="760.9" width="1" height="9.3" fill="#3030ee" fill-opacity="0.85"/><rect x="551.1" y="768" width="0.7" height="2.2" fill="#3030ee" fill-opacity="0.85"/><rect x="550.1" y="752.7" width="0.9" height="17.5" fill="#ff6a6a" fill-opacity="0.85"/><rect x="580.2" y="763.5" width="0.9" height="6.7" fill="#ff6a6a" fill-opacity="0.85"/><rect x="649.4" y="762.4" width="1" height="7.8" fill="#ff6a6a" fill-opacity="0.85"/><rect x="635.5" y="764.1" width="0.8" height="6.1" fill="#3030ee" fill-opacity="0.85"/><rect x="458.9" y="758.7" width="0.8" height="11.5" fill="#ff6a6a" fill-opacity="0.85"/><rect x="414.5" y="758" width="0.8" height="12.2" fill="#3030ee" fill-opacity="0.85"/><rect x="600.9" y="767.6" width="0.7" height="2.6" fill="#ff2a2a" fill-opacity="0.85"/><rect x="549.1" y="761.8" width="1" height="8.4" fill="#ff6a6a" fill-opacity="0.85"/><rect x="405" y="765.6" width="0.8" height="4.6" fill="#3030ee" fill-opacity="0.85"/><rect x="601.6" y="764.1" width="1" height="6.1" fill="#3030ee" fill-opacity="0.85"/><rect x="463.8" y="760.2" width="0.9" height="10" fill="#3030ee" fill-opacity="0.85"/><rect x="593.7" y="766" width="0.8" height="4.2" fill="#ff2a2a" fill-opacity="0.85"/><rect x="513" y="766.9" width="0.9" height="3.3" fill="#3030ee" fill-opacity="0.85"/><rect x="560.7" y="765" width="0.8" height="5.2" fill="#ff6a6a" fill-opacity="0.85"/><rect x="571.1" y="765.7" width="0.9" height="4.5" fill="#ff6a6a" fill-opacity="0.85"/><rect x="409" y="763.5" width="0.8" height="6.7" fill="#3030ee" fill-opacity="0.85"/><rect x="418.7" y="751.5" width="0.8" height="18.7" fill="#ff2a2a" fill-opacity="0.85"/><rect x="396.3" y="764.4" width="1.1" height="5.8" fill="#ff6a6a" fill-opacity="0.85"/><rect x="593" y="767.1" width="0.7" height="3.1" fill="#ff6a6a" fill-opacity="0.85"/><rect x="438.5" y="764.6" width="0.9" height="5.6" fill="#3030ee" fill-opacity="0.85"/><rect x="670.3" y="767.2" width="1" height="3" fill="#ff6a6a" fill-opacity="0.85"/><rect x="486.6" y="767.1" width="0.9" height="3.1" fill="#ff6a6a" fill-opacity="0.85"/><rect x="437.1" y="768.1" width="1" height="2.1" fill="#ff2a2a" fill-opacity="0.85"/><rect x="544" y="767.8" width="0.9" height="2.4" fill="#3030ee" fill-opacity="0.85"/><rect x="538.2" y="757.9" width="0.9" height="12.3" fill="#ff6a6a" fill-opacity="0.85"/><rect x="501.1" y="763.6" width="0.8" height="6.6" fill="#ff6a6a" fill-opacity="0.85"/><rect x="439.3" y="764.6" width="1.1" height="5.6" fill="#ff6a6a" fill-opacity="0.85"/><rect x="641.5" y="762.2" width="1" height="8" fill="#ff6a6a" fill-opacity="0.85"/><rect x="548.2" y="761.1" width="0.7" height="9.1" fill="#3030ee" fill-opacity="0.85"/><rect x="607.1" y="757" width="0.8" height="13.2" fill="#ff6a6a" fill-opacity="0.85"/><rect x="377.9" y="757.4" width="0.7" height="12.8" fill="#ff6a6a" fill-opacity="0.85"/><rect x="396" y="765.1" width="1.1" height="5.1" fill="#3030ee" fill-opacity="0.85"/><rect x="576.5" y="768.2" width="1" height="2" fill="#3030ee" fill-opacity="0.85"/><rect x="621.4" y="757.2" width="1" height="13" fill="#3030ee" fill-opacity="0.85"/><rect x="608.9" y="768.6" width="0.7" height="1.6" fill="#3030ee" fill-opacity="0.85"/><rect x="501.6" y="764.5" width="0.8" height="5.7" fill="#ff6a6a" fill-opacity="0.85"/><rect x="527.5" y="766.8" width="0.7" height="3.4" fill="#3030ee" fill-opacity="0.85"/><rect x="476.2" y="763.4" width="0.7" height="6.8" fill="#ff6a6a" fill-opacity="0.85"/><rect x="512.2" y="755.6" width="1" height="14.6" fill="#ff6a6a" fill-opacity="0.85"/><rect x="488.2" y="750.2" width="1" height="20" fill="#ff6a6a" fill-opacity="0.85"/><rect x="564.6" y="760.3" width="1.1" height="9.9" fill="#ff6a6a" fill-opacity="0.85"/><rect x="678.3" y="757.3" width="0.8" height="12.9" fill="#3030ee" fill-opacity="0.85"/><rect x="474.3" y="757.6" width="0.9" height="12.6" fill="#3030ee" fill-opacity="0.85"/><rect x="543.8" y="768.6" width="0.7" height="1.6" fill="#ff2a2a" fill-opacity="0.85"/><rect x="533.3" y="767.4" width="0.8" height="2.8" fill="#ff2a2a" fill-opacity="0.85"/><rect x="470.8" y="761.3" width="0.8" height="8.9" fill="#ff2a2a" fill-opacity="0.85"/><rect x="677.2" y="768.6" width="1" height="1.6" fill="#ff6a6a" fill-opacity="0.85"/><rect x="550.5" y="763.4" width="0.7" height="6.8" fill="#3030ee" fill-opacity="0.85"/><rect x="527.6" y="767.3" width="0.9" height="2.9" fill="#ff2a2a" fill-opacity="0.85"/><rect x="565.6" y="760.6" width="0.9" height="9.6" fill="#ff6a6a" fill-opacity="0.85"/><rect x="542.7" y="767.8" width="0.9" height="2.4" fill="#3030ee" fill-opacity="0.85"/><rect x="524.6" y="759.5" width="1.1" height="10.7" fill="#3030ee" fill-opacity="0.85"/><rect x="590.4" y="764.9" width="1" height="5.3" fill="#ff6a6a" fill-opacity="0.85"/><rect x="562.9" y="768.6" width="1" height="1.6" fill="#ff2a2a" fill-opacity="0.85"/><rect x="480.7" y="759.8" width="1.1" height="10.4" fill="#3030ee" fill-opacity="0.85"/><rect x="459.7" y="763.3" width="0.8" height="6.9" fill="#ff2a2a" fill-opacity="0.85"/><rect x="461.5" y="768.2" width="0.8" height="2" fill="#3030ee" fill-opacity="0.85"/><rect x="476.8" y="767.2" width="0.9" height="3" fill="#ff2a2a" fill-opacity="0.85"/><rect x="640.1" y="768.3" width="1" height="1.9" fill="#ff6a6a" fill-opacity="0.85"/><rect x="617.2" y="768.4" width="1.1" height="1.8" fill="#ff6a6a" fill-opacity="0.85"/><rect x="675.6" y="766.8" width="0.8" height="3.4" fill="#3030ee" fill-opacity="0.85"/><rect x="388.3" y="757.3" width="1.1" height="12.9" fill="#ff6a6a" fill-opacity="0.85"/><rect x="509.8" y="759.1" width="1.1" height="11.1" fill="#ff6a6a" fill-opacity="0.85"/><rect x="602.4" y="767.8" width="0.8" height="2.4" fill="#ff6a6a" fill-opacity="0.85"/><rect x="558.4" y="768.1" width="0.9" height="2.1" fill="#ff6a6a" fill-opacity="0.85"/><rect x="370.1" y="732.8" width="1.1" height="37.4" fill="#ff3a3a"/><rect x="377.8" y="745.9" width="1.1" height="24.3" fill="#ff3a3a"/><rect x="664" y="744" width="1.1" height="26.2" fill="#ff3a3a"/><rect x="547.7" y="747.6" width="1.1" height="22.6" fill="#ff3a3a"/><rect x="591.6" y="748.3" width="1.1" height="21.9" fill="#ff3a3a"/><rect x="530.8" y="748.3" width="1.1" height="21.9" fill="#ff3a3a"/><rect x="367.3" y="752.2" width="1.1" height="18" fill="#2020ee"/><rect x="483" y="749.9" width="1.1" height="20.3" fill="#2020ee"/><rect x="390" y="754" width="1.1" height="16.2" fill="#ff3a3a"/><rect x="395" y="752" width="1.1" height="18.2" fill="#ff3a3a"/><rect x="413" y="752" width="1.1" height="18.2" fill="#ff3a3a"/><rect x="418" y="750" width="1.1" height="20.2" fill="#ff3a3a"/><rect x="427" y="755" width="1.1" height="15.2" fill="#2020ee"/><rect x="437" y="749" width="1.1" height="21.2" fill="#ff3a3a"/><rect x="444" y="755" width="1.1" height="15.2" fill="#ff3a3a"/><rect x="452" y="751" width="1.1" height="19.2" fill="#ff3a3a"/><rect x="460" y="755" width="1.1" height="15.2" fill="#2020ee"/><rect x="465" y="752" width="1.1" height="18.2" fill="#ff3a3a"/><rect x="472" y="753" width="1.1" height="17.2" fill="#ff3a3a"/><rect x="493" y="751" width="1.1" height="19.2" fill="#ff3a3a"/><rect x="501" y="756" width="1.1" height="14.2" fill="#2020ee"/><rect x="509" y="753" width="1.1" height="17.2" fill="#ff3a3a"/><rect x="516" y="756" width="1.1" height="14.2" fill="#ff3a3a"/><rect x="523" y="758" width="1.1" height="12.2" fill="#2020ee"/><rect x="540" y="752" width="1.1" height="18.2" fill="#ff3a3a"/><rect x="555" y="757" width="1.1" height="13.2" fill="#ff3a3a"/><rect x="560" y="754" width="1.1" height="16.2" fill="#2020ee"/><rect x="566" y="760" width="1.1" height="10.2" fill="#ff3a3a"/><rect x="573" y="754" width="1.1" height="16.2" fill="#ff3a3a"/><rect x="580" y="760" width="1.1" height="10.2" fill="#2020ee"/><rect x="598" y="757" width="1.1" height="13.2" fill="#ff3a3a"/><rect x="604" y="754" width="1.1" height="16.2" fill="#ff3a3a"/><rect x="612" y="760" width="1.1" height="10.2" fill="#2020ee"/><rect x="620" y="756" width="1.1" height="14.2" fill="#ff3a3a"/><rect x="628" y="752" width="1.1" height="18.2" fill="#ff3a3a"/><rect x="636" y="755" width="1.1" height="15.2" fill="#ff3a3a"/><rect x="643" y="758" width="1.1" height="12.2" fill="#2020ee"/><rect x="650" y="752" width="1.1" height="18.2" fill="#ff3a3a"/><rect x="657" y="758" width="1.1" height="12.2" fill="#2020ee"/><rect x="672" y="756" width="1.1" height="14.2" fill="#ff3a3a"/><rect x="678" y="760" width="1.1" height="10.2" fill="#2020ee"/>
<path d="M369.1 770.5H680.9" stroke="#f07070" stroke-width="0.6" fill="none"/>
<rect x="369.1" y="770.8" width="311.8" height="1" fill="#f4f4f4"/>
<path d="M399 774.9H680" stroke="#5050ea" stroke-width="0.5" fill="none"/>
<path d="M401 774.9H680" stroke="#3030e0" stroke-width="1.2" stroke-dasharray="0.8 4.6" fill="none"/>
<rect x="400" y="773.7" width="1.5" height="2.4" fill="#1a10e8"/>
<rect x="425" y="773.4" width="1.8" height="3" fill="#1a10e8"/>
<rect x="440" y="773.7" width="1" height="2.4" fill="#1a10e8"/>
<rect x="505" y="773.7" width="1" height="2.4" fill="#1a10e8"/>
<rect x="547" y="773.6" width="1" height="2.6" fill="#1a10e8"/>
<rect x="568" y="773.6" width="1" height="2.6" fill="#1a10e8"/>
<rect x="585" y="773.6" width="1" height="2.6" fill="#1a10e8"/>
<rect x="586.5" y="773.6" width="1" height="2.6" fill="#1a10e8"/>
<rect x="590" y="773.6" width="1" height="2.6" fill="#1a10e8"/>
<rect x="592" y="773.6" width="1" height="2.6" fill="#1a10e8"/>
<rect x="597" y="773.6" width="1" height="2.6" fill="#1a10e8"/>
<rect x="601" y="773.6" width="1" height="2.6" fill="#1a10e8"/>
<rect x="605" y="773.6" width="1" height="2.6" fill="#1a10e8"/>
<rect x="610" y="773.6" width="1" height="2.6" fill="#1a10e8"/>
<rect x="650" y="773.6" width="1" height="2.6" fill="#1a10e8"/>
<rect x="654" y="773.6" width="1.5" height="2.6" fill="#1a10e8"/>
<rect x="660" y="773.2" width="6" height="3.4" fill="#1a10e8"/>
<rect x="672" y="773.6" width="1" height="2.6" fill="#1a10e8"/>
<text x="531.5" y="781.3" font-size="6.3" fill="#1a1a1a">KAT6B</text>
<rect x="397.2" y="771.6" width="269.1" height="12.6" fill="none" stroke="#3c28e6" stroke-width="1.3"/>
<rect x="366.6" y="690.3" width="316.8" height="94" fill="none" stroke="#2a2a2a" stroke-width="1.6"/>
<text x="371.2" y="687.9" font-size="10.5" fill="#111">chr10:74,733,426-75,055,972</text>
<text transform="translate(362.7 736.3) rotate(-90)" text-anchor="middle" font-size="12.9" fill="#111">KAT6B</text>
<rect x="375.9" y="787.1" width="5.1" height="13.1" fill="#1212f0"/><rect x="520.7" y="787.8" width="5.1" height="13.1" fill="#ff1a1a"/>
<rect x="375.2" y="810" width="8.6" height="4.2" fill="#1212f0"/><rect x="437.1" y="808.9" width="32.2" height="9.8" fill="none" stroke="#3c28e6" stroke-width="1.3"/>
<g font-size="10.5" fill="#111"><text x="386.9" y="796.6">Peak in untreated HMEC-1</text><text x="531" y="796.7">Peak in OSM-treated HMEC-1</text><text x="387.6" y="816.6">Exon</text><text x="474.5" y="818.2">Gene locus</text></g>
</svg></body></html>
